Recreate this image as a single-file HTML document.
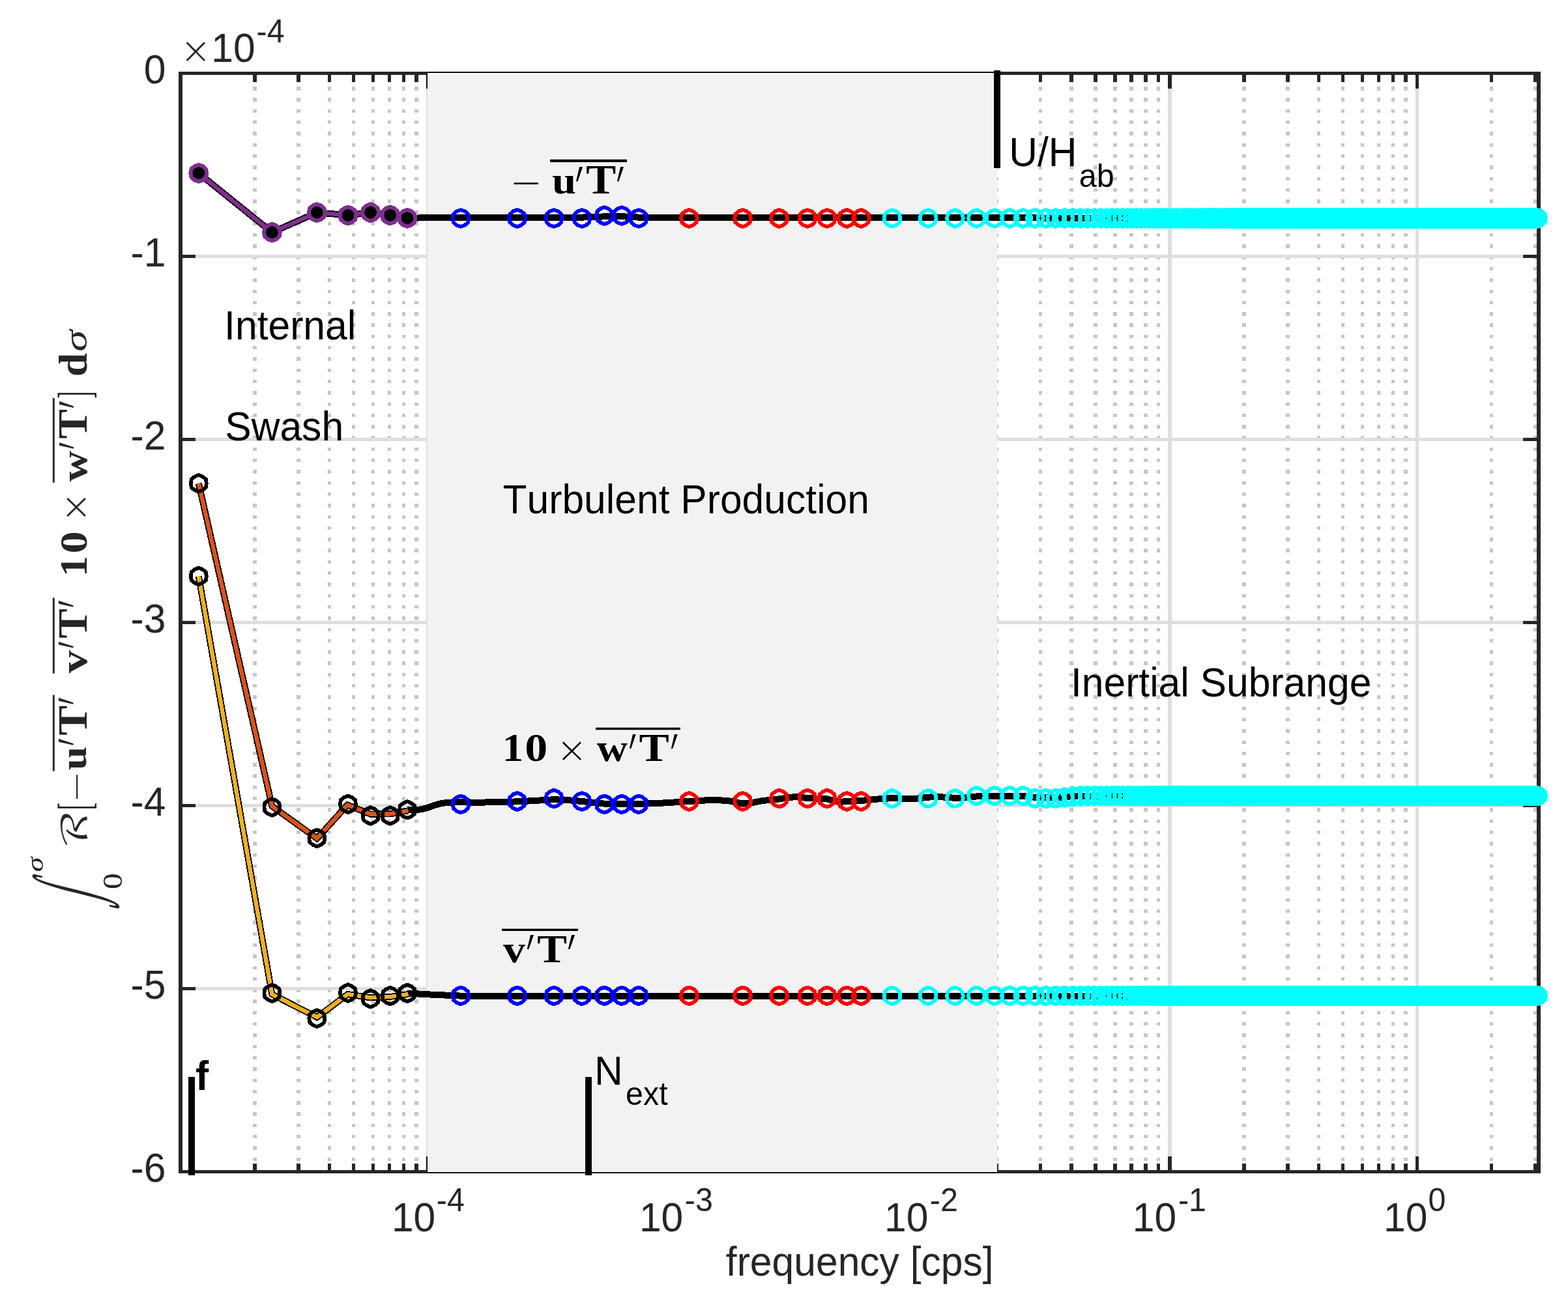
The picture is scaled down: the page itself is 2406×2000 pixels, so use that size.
<!DOCTYPE html>
<html lang="en"><head><meta charset="utf-8"><title>Integrated cospectra of heat flux versus frequency</title>
<style>
html,body{margin:0;padding:0;background:#fff;}
body{width:2406px;height:2000px;overflow:hidden;}
svg{display:block;}
text{font-family:"Liberation Sans",sans-serif;font-size:60.6px;fill:#000;font-kerning:none;}
.tk{fill:#262626;}
.sb{font-family:"Liberation Sans",sans-serif;font-weight:bold;}
.b{font-family:"Liberation Serif","DejaVu Serif",serif;font-weight:bold;}
.m{font-family:"Liberation Serif","DejaVu Serif",serif;}
.mi{font-family:"Liberation Serif","DejaVu Serif",serif;font-style:italic;}
.x{font-family:"DejaVu Sans","Liberation Sans",sans-serif;font-weight:200;}
.cal{font-family:"DejaVu Math TeX Gyre","DejaVu Sans","DejaVu Serif",serif;}
.g{shape-rendering:crispEdges;}
.o{paint-order:stroke;stroke:#fff;stroke-width:2.2px;stroke-linejoin:round;}
.e2{stroke:#fff;stroke-width:.9px;}
</style></head><body>
<svg width="2406" height="2000" viewBox="0 0 2406 2000" role="img" aria-label="Integrated cospectra versus frequency">
<desc>Cumulative integrals of the real part of the cospectra −u′T′, v′T′ and 10 × w′T′ versus frequency [cps] on a logarithmic axis; bands: Internal Swash, Turbulent Production, Inertial Subrange; reference frequencies f, N ext and U/H ab.</desc>
<rect width="2406" height="2000" fill="#fff"/>
<defs><path id="h" d="M0.00,-12.90L-6.20,-10.74L-11.17,-6.45L-12.40,-0.00L-11.17,6.45L-6.20,10.74L-0.00,12.90L6.20,10.74L11.17,6.45L12.40,0.00L11.17,-6.45L6.20,-10.74Z"/><path id="k" d="M0.00,-12.80L-6.00,-10.39L-11.09,-6.40L-12.00,-0.00L-11.09,6.40L-6.00,10.39L-0.00,12.80L6.00,10.39L11.09,6.40L12.00,0.00L11.09,-6.40L6.00,-10.39Z"/></defs>
<g class="g">
<line x1="391" x2="391" y1="1799.3" y2="112" stroke="#c6c6c6" stroke-width="6" stroke-dasharray="5.4 11.9"/>
<line x1="458" x2="458" y1="1799.3" y2="112" stroke="#c6c6c6" stroke-width="6" stroke-dasharray="5.4 11.9"/>
<line x1="505.5" x2="505.5" y1="1799.3" y2="112" stroke="#c6c6c6" stroke-width="5" stroke-dasharray="5.4 11.9"/>
<line x1="542.5" x2="542.5" y1="1799.3" y2="112" stroke="#c6c6c6" stroke-width="5" stroke-dasharray="5.4 11.9"/>
<line x1="572.5" x2="572.5" y1="1799.3" y2="112" stroke="#c6c6c6" stroke-width="5" stroke-dasharray="5.4 11.9"/>
<line x1="597.5" x2="597.5" y1="1799.3" y2="112" stroke="#c6c6c6" stroke-width="5" stroke-dasharray="5.4 11.9"/>
<line x1="619.5" x2="619.5" y1="1799.3" y2="112" stroke="#c6c6c6" stroke-width="5" stroke-dasharray="5.4 11.9"/>
<line x1="639" x2="639" y1="1799.3" y2="112" stroke="#c6c6c6" stroke-width="6" stroke-dasharray="5.4 11.9"/>
<line x1="770.5" x2="770.5" y1="1799.3" y2="112" stroke="#c6c6c6" stroke-width="5" stroke-dasharray="5.4 11.9"/>
<line x1="837.5" x2="837.5" y1="1799.3" y2="112" stroke="#c6c6c6" stroke-width="5" stroke-dasharray="5.4 11.9"/>
<line x1="885" x2="885" y1="1799.3" y2="112" stroke="#c6c6c6" stroke-width="6" stroke-dasharray="5.4 11.9"/>
<line x1="922" x2="922" y1="1799.3" y2="112" stroke="#c6c6c6" stroke-width="6" stroke-dasharray="5.4 11.9"/>
<line x1="952" x2="952" y1="1799.3" y2="112" stroke="#c6c6c6" stroke-width="6" stroke-dasharray="5.4 11.9"/>
<line x1="977" x2="977" y1="1799.3" y2="112" stroke="#c6c6c6" stroke-width="6" stroke-dasharray="5.4 11.9"/>
<line x1="999" x2="999" y1="1799.3" y2="112" stroke="#c6c6c6" stroke-width="6" stroke-dasharray="5.4 11.9"/>
<line x1="1018.5" x2="1018.5" y1="1799.3" y2="112" stroke="#c6c6c6" stroke-width="5" stroke-dasharray="5.4 11.9"/>
<line x1="1150" x2="1150" y1="1799.3" y2="112" stroke="#c6c6c6" stroke-width="6" stroke-dasharray="5.4 11.9"/>
<line x1="1217" x2="1217" y1="1799.3" y2="112" stroke="#c6c6c6" stroke-width="6" stroke-dasharray="5.4 11.9"/>
<line x1="1264.5" x2="1264.5" y1="1799.3" y2="112" stroke="#c6c6c6" stroke-width="5" stroke-dasharray="5.4 11.9"/>
<line x1="1301.5" x2="1301.5" y1="1799.3" y2="112" stroke="#c6c6c6" stroke-width="5" stroke-dasharray="5.4 11.9"/>
<line x1="1331.5" x2="1331.5" y1="1799.3" y2="112" stroke="#c6c6c6" stroke-width="5" stroke-dasharray="5.4 11.9"/>
<line x1="1356.5" x2="1356.5" y1="1799.3" y2="112" stroke="#c6c6c6" stroke-width="5" stroke-dasharray="5.4 11.9"/>
<line x1="1378.5" x2="1378.5" y1="1799.3" y2="112" stroke="#c6c6c6" stroke-width="5" stroke-dasharray="5.4 11.9"/>
<line x1="1398" x2="1398" y1="1799.3" y2="112" stroke="#c6c6c6" stroke-width="6" stroke-dasharray="5.4 11.9"/>
<line x1="1529.5" x2="1529.5" y1="1799.3" y2="112" stroke="#c6c6c6" stroke-width="5" stroke-dasharray="5.4 11.9"/>
<line x1="1596.5" x2="1596.5" y1="1799.3" y2="112" stroke="#c6c6c6" stroke-width="5" stroke-dasharray="5.4 11.9"/>
<line x1="1644" x2="1644" y1="1799.3" y2="112" stroke="#c6c6c6" stroke-width="6" stroke-dasharray="5.4 11.9"/>
<line x1="1681" x2="1681" y1="1799.3" y2="112" stroke="#c6c6c6" stroke-width="6" stroke-dasharray="5.4 11.9"/>
<line x1="1711" x2="1711" y1="1799.3" y2="112" stroke="#c6c6c6" stroke-width="6" stroke-dasharray="5.4 11.9"/>
<line x1="1736" x2="1736" y1="1799.3" y2="112" stroke="#c6c6c6" stroke-width="6" stroke-dasharray="5.4 11.9"/>
<line x1="1758" x2="1758" y1="1799.3" y2="112" stroke="#c6c6c6" stroke-width="6" stroke-dasharray="5.4 11.9"/>
<line x1="1777.5" x2="1777.5" y1="1799.3" y2="112" stroke="#c6c6c6" stroke-width="5" stroke-dasharray="5.4 11.9"/>
<line x1="1909" x2="1909" y1="1799.3" y2="112" stroke="#c6c6c6" stroke-width="6" stroke-dasharray="5.4 11.9"/>
<line x1="1976" x2="1976" y1="1799.3" y2="112" stroke="#c6c6c6" stroke-width="6" stroke-dasharray="5.4 11.9"/>
<line x1="2023.5" x2="2023.5" y1="1799.3" y2="112" stroke="#c6c6c6" stroke-width="5" stroke-dasharray="5.4 11.9"/>
<line x1="2060.5" x2="2060.5" y1="1799.3" y2="112" stroke="#c6c6c6" stroke-width="5" stroke-dasharray="5.4 11.9"/>
<line x1="2090.5" x2="2090.5" y1="1799.3" y2="112" stroke="#c6c6c6" stroke-width="5" stroke-dasharray="5.4 11.9"/>
<line x1="2115.5" x2="2115.5" y1="1799.3" y2="112" stroke="#c6c6c6" stroke-width="5" stroke-dasharray="5.4 11.9"/>
<line x1="2137.5" x2="2137.5" y1="1799.3" y2="112" stroke="#c6c6c6" stroke-width="5" stroke-dasharray="5.4 11.9"/>
<line x1="2157" x2="2157" y1="1799.3" y2="112" stroke="#c6c6c6" stroke-width="6" stroke-dasharray="5.4 11.9"/>
<line x1="2288.5" x2="2288.5" y1="1799.3" y2="112" stroke="#c6c6c6" stroke-width="5" stroke-dasharray="5.4 11.9"/>
<line x1="2355.5" x2="2355.5" y1="1799.3" y2="112" stroke="#c6c6c6" stroke-width="5" stroke-dasharray="5.4 11.9"/>
<rect x="654" y="113" width="5" height="1685" fill="#dedede"/>
<rect x="1033" y="113" width="6" height="1685" fill="#dedede"/>
<rect x="1413" y="113" width="5" height="1685" fill="#dedede"/>
<rect x="1792" y="113" width="6" height="1685" fill="#dedede"/>
<rect x="2172" y="113" width="5" height="1685" fill="#dedede"/>
<rect x="277" y="1515" width="2084" height="5" fill="#dedede"/>
<rect x="277" y="1234" width="2084" height="5" fill="#dedede"/>
<rect x="277" y="953" width="2084" height="5" fill="#dedede"/>
<rect x="277" y="672" width="2084" height="5" fill="#dedede"/>
<rect x="277" y="391" width="2084" height="5" fill="#dedede"/>
</g>
<g class="g" fill="#262626">
<rect x="274" y="110" width="6" height="1691"/>
<rect x="2358" y="110" width="6" height="1691"/>
<rect x="274" y="110" width="2090" height="5"/>
<rect x="274" y="1796" width="2090" height="5"/>
<rect x="388" y="115" width="6" height="11"/>
<rect x="388" y="1786" width="6" height="10"/>
<rect x="455" y="115" width="6" height="11"/>
<rect x="455" y="1786" width="6" height="10"/>
<rect x="503" y="115" width="5" height="11"/>
<rect x="503" y="1786" width="5" height="10"/>
<rect x="540" y="115" width="5" height="11"/>
<rect x="540" y="1786" width="5" height="10"/>
<rect x="570" y="115" width="5" height="11"/>
<rect x="570" y="1786" width="5" height="10"/>
<rect x="595" y="115" width="5" height="11"/>
<rect x="595" y="1786" width="5" height="10"/>
<rect x="617" y="115" width="5" height="11"/>
<rect x="617" y="1786" width="5" height="10"/>
<rect x="636" y="115" width="6" height="11"/>
<rect x="636" y="1786" width="6" height="10"/>
<rect x="768" y="115" width="5" height="11"/>
<rect x="768" y="1786" width="5" height="10"/>
<rect x="835" y="115" width="5" height="11"/>
<rect x="835" y="1786" width="5" height="10"/>
<rect x="882" y="115" width="6" height="11"/>
<rect x="882" y="1786" width="6" height="10"/>
<rect x="919" y="115" width="6" height="11"/>
<rect x="919" y="1786" width="6" height="10"/>
<rect x="949" y="115" width="6" height="11"/>
<rect x="949" y="1786" width="6" height="10"/>
<rect x="974" y="115" width="6" height="11"/>
<rect x="974" y="1786" width="6" height="10"/>
<rect x="996" y="115" width="6" height="11"/>
<rect x="996" y="1786" width="6" height="10"/>
<rect x="1016" y="115" width="5" height="11"/>
<rect x="1016" y="1786" width="5" height="10"/>
<rect x="1147" y="115" width="6" height="11"/>
<rect x="1147" y="1786" width="6" height="10"/>
<rect x="1214" y="115" width="6" height="11"/>
<rect x="1214" y="1786" width="6" height="10"/>
<rect x="1262" y="115" width="5" height="11"/>
<rect x="1262" y="1786" width="5" height="10"/>
<rect x="1299" y="115" width="5" height="11"/>
<rect x="1299" y="1786" width="5" height="10"/>
<rect x="1329" y="115" width="5" height="11"/>
<rect x="1329" y="1786" width="5" height="10"/>
<rect x="1354" y="115" width="5" height="11"/>
<rect x="1354" y="1786" width="5" height="10"/>
<rect x="1376" y="115" width="5" height="11"/>
<rect x="1376" y="1786" width="5" height="10"/>
<rect x="1395" y="115" width="6" height="11"/>
<rect x="1395" y="1786" width="6" height="10"/>
<rect x="1527" y="115" width="5" height="11"/>
<rect x="1527" y="1786" width="5" height="10"/>
<rect x="1594" y="115" width="5" height="11"/>
<rect x="1594" y="1786" width="5" height="10"/>
<rect x="1641" y="115" width="6" height="11"/>
<rect x="1641" y="1786" width="6" height="10"/>
<rect x="1678" y="115" width="6" height="11"/>
<rect x="1678" y="1786" width="6" height="10"/>
<rect x="1708" y="115" width="6" height="11"/>
<rect x="1708" y="1786" width="6" height="10"/>
<rect x="1733" y="115" width="6" height="11"/>
<rect x="1733" y="1786" width="6" height="10"/>
<rect x="1755" y="115" width="6" height="11"/>
<rect x="1755" y="1786" width="6" height="10"/>
<rect x="1775" y="115" width="5" height="11"/>
<rect x="1775" y="1786" width="5" height="10"/>
<rect x="1906" y="115" width="6" height="11"/>
<rect x="1906" y="1786" width="6" height="10"/>
<rect x="1973" y="115" width="6" height="11"/>
<rect x="1973" y="1786" width="6" height="10"/>
<rect x="2021" y="115" width="5" height="11"/>
<rect x="2021" y="1786" width="5" height="10"/>
<rect x="2058" y="115" width="5" height="11"/>
<rect x="2058" y="1786" width="5" height="10"/>
<rect x="2088" y="115" width="5" height="11"/>
<rect x="2088" y="1786" width="5" height="10"/>
<rect x="2113" y="115" width="5" height="11"/>
<rect x="2113" y="1786" width="5" height="10"/>
<rect x="2135" y="115" width="5" height="11"/>
<rect x="2135" y="1786" width="5" height="10"/>
<rect x="2154" y="115" width="6" height="11"/>
<rect x="2154" y="1786" width="6" height="10"/>
<rect x="2286" y="115" width="5" height="11"/>
<rect x="2286" y="1786" width="5" height="10"/>
<rect x="2353" y="115" width="5" height="11"/>
<rect x="2353" y="1786" width="5" height="10"/>
<rect x="654" y="115" width="5" height="21"/>
<rect x="654" y="1775" width="5" height="21"/>
<rect x="1033" y="115" width="6" height="21"/>
<rect x="1033" y="1775" width="6" height="21"/>
<rect x="1413" y="115" width="5" height="21"/>
<rect x="1413" y="1775" width="5" height="21"/>
<rect x="1792" y="115" width="6" height="21"/>
<rect x="1792" y="1775" width="6" height="21"/>
<rect x="2172" y="115" width="5" height="21"/>
<rect x="2172" y="1775" width="5" height="21"/>
<rect x="280" y="1515" width="20" height="5"/>
<rect x="2337" y="1515" width="21" height="5"/>
<rect x="280" y="1234" width="20" height="5"/>
<rect x="2337" y="1234" width="21" height="5"/>
<rect x="280" y="953" width="20" height="5"/>
<rect x="2337" y="953" width="21" height="5"/>
<rect x="280" y="672" width="20" height="5"/>
<rect x="2337" y="672" width="21" height="5"/>
<rect x="280" y="391" width="20" height="5"/>
<rect x="2337" y="391" width="21" height="5"/>
</g>
<g class="g">
<rect x="656" y="112" width="874" height="1687" fill="#fff"/>
<rect x="656" y="113" width="874" height="1685" fill="#f2f2f2"/>
<rect x="656" y="112" width="1" height="26" fill="#fff"/>
<rect x="656" y="1774" width="1" height="25" fill="#fff"/>
<rect x="654" y="1775" width="2" height="24" fill="#0a0a0a"/>
<rect x="654" y="112" width="2" height="24" fill="#0a0a0a"/>
<rect x="656" y="1799" width="874" height="2" fill="#0c0c0c"/>
<rect x="656" y="110" width="874" height="2" fill="#0c0c0c"/>
</g>
<defs><clipPath id="pc"><rect x="656" y="113" width="874" height="1685"/></clipPath></defs>
<g class="g" clip-path="url(#pc)" fill="none" stroke="#fff" stroke-linejoin="round">
<polyline points="625,334.8 660,334.2 707,333.6 760,333.9 850,333.9 893,333.6 927,332.4 954,332.2 980,333.6 1020,334 1200,334 1440,334.4" fill="none" stroke="#fff" stroke-width="12" stroke-linejoin="miter" />
<g stroke-width="8">
<use href="#h" x="707" y="335"/>
<use href="#h" x="793.6" y="335"/>
<use href="#h" x="850" y="335"/>
<use href="#h" x="893" y="335"/>
<use href="#h" x="927.4" y="331"/>
<use href="#h" x="954" y="331"/>
<use href="#h" x="980" y="335"/>
<use href="#h" x="1057.4" y="335"/>
<use href="#h" x="1139.6" y="335"/>
<use href="#h" x="1195.6" y="335"/>
<use href="#h" x="1239" y="335"/>
<use href="#h" x="1269" y="335"/>
<use href="#h" x="1299.4" y="335"/>
<use href="#h" x="1321.4" y="335"/>
<use href="#h" x="1369" y="335"/>
<use href="#h" x="1424.2" y="335"/>
<use href="#h" x="1465.4" y="335"/>
<use href="#h" x="1498.4" y="335"/>
<use href="#h" x="1525.9" y="335"/>
</g>
<polyline points="625,1243.5 640,1243 648,1242 657,1239.5 666,1236.2 676,1233.4 686,1231.8 700,1231.4 740,1231.6 793.6,1230.4 820,1229 850,1227.2 870,1228 893,1230 910,1232 927,1233.6 954,1234 980,1234 1020,1232.4 1057.4,1230 1096,1227.6 1120,1229.5 1139.6,1233.6 1155,1232 1170,1229 1195.6,1226.4 1220,1223 1239,1225 1269,1226.4 1288,1231 1299.4,1230 1321.4,1229 1348,1226.4 1369,1225 1400,1226.4 1425,1223.6 1440,1223 1468,1225 1498,1222.5 1528,1222 1572,1222 1589,1224" fill="none" stroke="#fff" stroke-width="12" stroke-linejoin="miter" />
<g stroke-width="8">
<use href="#h" x="707" y="1234.4"/>
<use href="#h" x="793.6" y="1230"/>
<use href="#h" x="850" y="1225.6"/>
<use href="#h" x="893" y="1230"/>
<use href="#h" x="927.4" y="1234.4"/>
<use href="#h" x="954" y="1234.4"/>
<use href="#h" x="980" y="1234.4"/>
<use href="#h" x="1057.4" y="1230"/>
<use href="#h" x="1139.6" y="1230"/>
<use href="#h" x="1195.6" y="1225.6"/>
<use href="#h" x="1239" y="1225.6"/>
<use href="#h" x="1269" y="1225.6"/>
<use href="#h" x="1299.4" y="1230"/>
<use href="#h" x="1321.4" y="1230"/>
<use href="#h" x="1369" y="1225.6"/>
<use href="#h" x="1424.2" y="1225.6"/>
<use href="#h" x="1465.4" y="1225.6"/>
<use href="#h" x="1498.4" y="1221.6"/>
<use href="#h" x="1525.9" y="1221.6"/>
</g>
<polyline points="625,1524.5 660,1526.5 707,1528.6 800,1529 1440,1529" fill="none" stroke="#fff" stroke-width="12" stroke-linejoin="miter" />
<g stroke-width="8">
<use href="#h" x="707" y="1528.4"/>
<use href="#h" x="793.6" y="1528.4"/>
<use href="#h" x="850" y="1528.4"/>
<use href="#h" x="893" y="1528.4"/>
<use href="#h" x="927.4" y="1528.4"/>
<use href="#h" x="954" y="1528.4"/>
<use href="#h" x="980" y="1528.4"/>
<use href="#h" x="1057.4" y="1528.4"/>
<use href="#h" x="1139.6" y="1528.4"/>
<use href="#h" x="1195.6" y="1528.4"/>
<use href="#h" x="1239" y="1528.4"/>
<use href="#h" x="1269" y="1528.4"/>
<use href="#h" x="1299.4" y="1528.4"/>
<use href="#h" x="1321.4" y="1528.4"/>
<use href="#h" x="1369" y="1528.4"/>
<use href="#h" x="1424.2" y="1528.4"/>
<use href="#h" x="1465.4" y="1528.4"/>
<use href="#h" x="1498.4" y="1528.4"/>
<use href="#h" x="1525.9" y="1528.4"/>
</g>
<rect x="897" y="1652" width="12" height="150" fill="#fff" stroke="none"/>
<rect x="1524" y="113" width="12" height="146" fill="#fff" stroke="none"/>
</g>
<g class="g">
<polyline points="304.8,265.8 417.4,356.7 486.3,326.2 534,330.4 568.6,326.2 598.7,330.4 625,334.8" fill="none" stroke="#000" stroke-width="10" stroke-linejoin="miter" />
<polyline points="625,334.8 660,334.2 707,333.6 760,333.9 850,333.9 893,333.6 927,332.4 954,332.2 980,333.6 1020,334 1200,334 1440,334.4 2359.6,335" fill="none" stroke="#000" stroke-width="10" stroke-linejoin="miter" />
<polyline points="304.8,265.8 417.4,356.7 486.3,326.2 534,330.4 568.6,326.2 598.7,330.4 625,334.8" fill="none" stroke="#7e2f8e" stroke-width="6.3" stroke-linejoin="miter" />
<g fill="#000" stroke="#7e2f8e" stroke-width="6" stroke-linejoin="round">
<use href="#h" x="304.8" y="265.8"/>
<use href="#h" x="417.4" y="356.7"/>
<use href="#h" x="486.3" y="326.2"/>
<use href="#h" x="534" y="330.4"/>
<use href="#h" x="568.6" y="326.2"/>
<use href="#h" x="598.7" y="330.4"/>
<use href="#h" x="625" y="334.8"/>
</g>
<g fill="none" stroke="#00f" stroke-width="5.8" stroke-linejoin="round">
<use href="#h" x="707" y="335"/>
<use href="#h" x="793.6" y="335"/>
<use href="#h" x="850" y="335"/>
<use href="#h" x="893" y="335"/>
<use href="#h" x="927.4" y="331"/>
<use href="#h" x="954" y="331"/>
<use href="#h" x="980" y="335"/>
</g>
<g fill="none" stroke="#f00" stroke-width="5.8" stroke-linejoin="round">
<use href="#h" x="1057.4" y="335"/>
<use href="#h" x="1139.6" y="335"/>
<use href="#h" x="1195.6" y="335"/>
<use href="#h" x="1239" y="335"/>
<use href="#h" x="1269" y="335"/>
<use href="#h" x="1299.4" y="335"/>
<use href="#h" x="1321.4" y="335"/>
</g>
<g fill="none" stroke="#0ff" stroke-width="5.8" stroke-linejoin="round">
<use href="#h" x="1369" y="335"/>
<use href="#h" x="1424.2" y="335"/>
<use href="#h" x="1465.4" y="335"/>
<use href="#h" x="1498.4" y="335"/>
<use href="#h" x="1525.9" y="335"/>
<use href="#h" x="1549.4" y="335"/>
<use href="#h" x="1570" y="335"/>
<use href="#h" x="1588.3" y="335"/>
<use href="#h" x="1604.8" y="335"/>
<use href="#h" x="1619.8" y="335"/>
<use href="#h" x="1633.5" y="335"/>
<use href="#h" x="1646.2" y="335"/>
<use href="#h" x="1658" y="335"/>
<use href="#h" x="1668.9" y="335"/>
<use href="#h" x="1679.2" y="335"/>
<use href="#h" x="1688.9" y="335"/>
<use href="#h" x="1698.1" y="335"/>
<use href="#h" x="1706.7" y="335"/>
<use href="#h" x="1715" y="335"/>
<use href="#h" x="1722.8" y="335"/>
<use href="#h" x="1730.3" y="335"/>
<use href="#h" x="1737.5" y="335"/>
<use href="#h" x="1744.3" y="335"/>
<use href="#h" x="1750.9" y="335"/>
<use href="#h" x="1757.3" y="335"/>
<use href="#h" x="1763.4" y="335"/>
<use href="#h" x="1769.3" y="335"/>
<use href="#h" x="1774.9" y="335"/>
<use href="#h" x="1780.4" y="335"/>
<use href="#h" x="1785.7" y="335"/>
<use href="#h" x="1790.9" y="335"/>
<use href="#h" x="1795.9" y="335"/>
<use href="#h" x="1800.7" y="335"/>
<use href="#h" x="1805.4" y="335"/>
<use href="#h" x="1810" y="335"/>
<use href="#h" x="1814.5" y="335"/>
<use href="#h" x="1818.8" y="335"/>
<use href="#h" x="1823" y="335"/>
<use href="#h" x="1827.2" y="335"/>
<use href="#h" x="1831.2" y="335"/>
<use href="#h" x="1835.1" y="335"/>
<use href="#h" x="1838.9" y="335"/>
<use href="#h" x="1842.7" y="335"/>
<use href="#h" x="1846.3" y="335"/>
<use href="#h" x="1849.9" y="335"/>
<use href="#h" x="1853.4" y="335"/>
<use href="#h" x="1856.9" y="335"/>
<use href="#h" x="1860.2" y="335"/>
<use href="#h" x="1863.5" y="335"/>
<use href="#h" x="1866.7" y="335"/>
<use href="#h" x="1869.9" y="335"/>
<use href="#h" x="1873" y="335"/>
<use href="#h" x="1876.1" y="335"/>
<use href="#h" x="1879.1" y="335"/>
<use href="#h" x="1882" y="335"/>
<use href="#h" x="1884.9" y="335"/>
<use href="#h" x="1887.7" y="335"/>
<use href="#h" x="1890.5" y="335"/>
<use href="#h" x="1893.3" y="335"/>
<use href="#h" x="1896" y="335"/>
<use href="#h" x="1898.6" y="335"/>
<use href="#h" x="1901.3" y="335"/>
<use href="#h" x="1903.8" y="335"/>
<use href="#h" x="1906.4" y="335"/>
<use href="#h" x="1908.9" y="335"/>
<use href="#h" x="1911.3" y="335"/>
<use href="#h" x="1913.7" y="335"/>
<use href="#h" x="1916.1" y="335"/>
<use href="#h" x="1918.5" y="335"/>
<use href="#h" x="1920.8" y="335"/>
<use href="#h" x="1923.1" y="335"/>
<use href="#h" x="1925.4" y="335"/>
<use href="#h" x="1927.6" y="335"/>
<use href="#h" x="1929.8" y="335"/>
<use href="#h" x="1931.9" y="335"/>
<use href="#h" x="1934.1" y="335"/>
<use href="#h" x="1936.2" y="335"/>
<use href="#h" x="1938.3" y="335"/>
<use href="#h" x="1940.3" y="335"/>
<use href="#h" x="1942.4" y="335"/>
<use href="#h" x="1944.4" y="335"/>
<use href="#h" x="1946.4" y="335"/>
<use href="#h" x="1948.3" y="335"/>
<use href="#h" x="1950.3" y="335"/>
<use href="#h" x="1952.2" y="335"/>
<use href="#h" x="1954.1" y="335"/>
<use href="#h" x="1956" y="335"/>
<use href="#h" x="1957.8" y="335"/>
<use href="#h" x="1959.6" y="335"/>
<use href="#h" x="1961.5" y="335"/>
<use href="#h" x="1963.2" y="335"/>
<use href="#h" x="1965" y="335"/>
<use href="#h" x="1966.8" y="335"/>
<use href="#h" x="1968.5" y="335"/>
<use href="#h" x="1970.2" y="335"/>
<use href="#h" x="1971.9" y="335"/>
<use href="#h" x="1973.6" y="335"/>
<use href="#h" x="1975.3" y="335"/>
<use href="#h" x="1976.9" y="335"/>
<use href="#h" x="1978.5" y="335"/>
<use href="#h" x="1980.2" y="335"/>
<use href="#h" x="1981.8" y="335"/>
<use href="#h" x="1983.3" y="335"/>
<use href="#h" x="1984.9" y="335"/>
<use href="#h" x="1986.5" y="335"/>
<use href="#h" x="1988" y="335"/>
<use href="#h" x="1989.5" y="335"/>
<use href="#h" x="1991" y="335"/>
<use href="#h" x="1992.5" y="335"/>
<use href="#h" x="1994" y="335"/>
<use href="#h" x="1995.5" y="335"/>
<use href="#h" x="1997" y="335"/>
<use href="#h" x="1998.4" y="335"/>
<use href="#h" x="1999.8" y="335"/>
<use href="#h" x="2001.3" y="335"/>
<use href="#h" x="2002.7" y="335"/>
<use href="#h" x="2004.1" y="335"/>
<use href="#h" x="2005.4" y="335"/>
<use href="#h" x="2006.8" y="335"/>
<use href="#h" x="2008.2" y="335"/>
<use href="#h" x="2009.5" y="335"/>
<use href="#h" x="2010.9" y="335"/>
<use href="#h" x="2012.2" y="335"/>
<use href="#h" x="2013.5" y="335"/>
<use href="#h" x="2014.8" y="335"/>
<use href="#h" x="2016.1" y="335"/>
<use href="#h" x="2017.4" y="335"/>
<use href="#h" x="2018.7" y="335"/>
<use href="#h" x="2020" y="335"/>
<use href="#h" x="2021.2" y="335"/>
<use href="#h" x="2022.5" y="335"/>
<use href="#h" x="2023.7" y="335"/>
<use href="#h" x="2024.9" y="335"/>
<use href="#h" x="2026.2" y="335"/>
<use href="#h" x="2027.4" y="335"/>
<use href="#h" x="2028.6" y="335"/>
<use href="#h" x="2030.9" y="335"/>
<use href="#h" x="2033.3" y="335"/>
<use href="#h" x="2035.6" y="335"/>
<use href="#h" x="2037.9" y="335"/>
<use href="#h" x="2040.1" y="335"/>
<use href="#h" x="2042.4" y="335"/>
<use href="#h" x="2044.5" y="335"/>
<use href="#h" x="2046.7" y="335"/>
<use href="#h" x="2048.8" y="335"/>
<use href="#h" x="2050.9" y="335"/>
<use href="#h" x="2053" y="335"/>
<use href="#h" x="2055.1" y="335"/>
<use href="#h" x="2057.1" y="335"/>
<use href="#h" x="2059.1" y="335"/>
<use href="#h" x="2061.1" y="335"/>
<use href="#h" x="2063.1" y="335"/>
<use href="#h" x="2065" y="335"/>
<use href="#h" x="2066.9" y="335"/>
<use href="#h" x="2068.8" y="335"/>
<use href="#h" x="2070.7" y="335"/>
<use href="#h" x="2072.5" y="335"/>
<use href="#h" x="2074.3" y="335"/>
<use href="#h" x="2076.1" y="335"/>
<use href="#h" x="2077.9" y="335"/>
<use href="#h" x="2079.7" y="335"/>
<use href="#h" x="2081.4" y="335"/>
<use href="#h" x="2083.2" y="335"/>
<use href="#h" x="2084.9" y="335"/>
<use href="#h" x="2086.6" y="335"/>
<use href="#h" x="2088.2" y="335"/>
<use href="#h" x="2089.9" y="335"/>
<use href="#h" x="2091.6" y="335"/>
<use href="#h" x="2093.2" y="335"/>
<use href="#h" x="2094.8" y="335"/>
<use href="#h" x="2096.4" y="335"/>
<use href="#h" x="2098" y="335"/>
<use href="#h" x="2099.5" y="335"/>
<use href="#h" x="2101.1" y="335"/>
<use href="#h" x="2102.6" y="335"/>
<use href="#h" x="2104.1" y="335"/>
<use href="#h" x="2105.7" y="335"/>
<use href="#h" x="2107.1" y="335"/>
<use href="#h" x="2108.6" y="335"/>
<use href="#h" x="2110.1" y="335"/>
<use href="#h" x="2111.6" y="335"/>
<use href="#h" x="2113" y="335"/>
<use href="#h" x="2114.4" y="335"/>
<use href="#h" x="2115.8" y="335"/>
<use href="#h" x="2117.2" y="335"/>
<use href="#h" x="2118.6" y="335"/>
<use href="#h" x="2120" y="335"/>
<use href="#h" x="2121.4" y="335"/>
<use href="#h" x="2122.8" y="335"/>
<use href="#h" x="2124.1" y="335"/>
<use href="#h" x="2125.4" y="335"/>
<use href="#h" x="2126.8" y="335"/>
<use href="#h" x="2128.1" y="335"/>
<use href="#h" x="2129.4" y="335"/>
<use href="#h" x="2130.7" y="335"/>
<use href="#h" x="2132" y="335"/>
<use href="#h" x="2133.2" y="335"/>
<use href="#h" x="2134.5" y="335"/>
<use href="#h" x="2135.8" y="335"/>
<use href="#h" x="2137" y="335"/>
<use href="#h" x="2138.2" y="335"/>
<use href="#h" x="2139.5" y="335"/>
<use href="#h" x="2140.7" y="335"/>
<use href="#h" x="2141.9" y="335"/>
<use href="#h" x="2143.1" y="335"/>
<use href="#h" x="2144.9" y="335"/>
<use href="#h" x="2146.7" y="335"/>
<use href="#h" x="2148.4" y="335"/>
<use href="#h" x="2150.1" y="335"/>
<use href="#h" x="2151.8" y="335"/>
<use href="#h" x="2153.5" y="335"/>
<use href="#h" x="2155.2" y="335"/>
<use href="#h" x="2156.9" y="335"/>
<use href="#h" x="2158.5" y="335"/>
<use href="#h" x="2160.1" y="335"/>
<use href="#h" x="2161.7" y="335"/>
<use href="#h" x="2163.3" y="335"/>
<use href="#h" x="2164.9" y="335"/>
<use href="#h" x="2166.5" y="335"/>
<use href="#h" x="2168" y="335"/>
<use href="#h" x="2169.6" y="335"/>
<use href="#h" x="2171.1" y="335"/>
<use href="#h" x="2172.6" y="335"/>
<use href="#h" x="2174.1" y="335"/>
<use href="#h" x="2175.6" y="335"/>
<use href="#h" x="2177" y="335"/>
<use href="#h" x="2178.5" y="335"/>
<use href="#h" x="2179.9" y="335"/>
<use href="#h" x="2181.4" y="335"/>
<use href="#h" x="2182.8" y="335"/>
<use href="#h" x="2184.2" y="335"/>
<use href="#h" x="2185.6" y="335"/>
<use href="#h" x="2187" y="335"/>
<use href="#h" x="2188.3" y="335"/>
<use href="#h" x="2189.7" y="335"/>
<use href="#h" x="2191" y="335"/>
<use href="#h" x="2192.4" y="335"/>
<use href="#h" x="2193.7" y="335"/>
<use href="#h" x="2195" y="335"/>
<use href="#h" x="2196.3" y="335"/>
<use href="#h" x="2197.6" y="335"/>
<use href="#h" x="2198.9" y="335"/>
<use href="#h" x="2200.2" y="335"/>
<use href="#h" x="2201.4" y="335"/>
<use href="#h" x="2202.7" y="335"/>
<use href="#h" x="2203.9" y="335"/>
<use href="#h" x="2205.2" y="335"/>
<use href="#h" x="2206.4" y="335"/>
<use href="#h" x="2207.6" y="335"/>
<use href="#h" x="2208.8" y="335"/>
<use href="#h" x="2210" y="335"/>
<use href="#h" x="2211.6" y="335"/>
<use href="#h" x="2213.2" y="335"/>
<use href="#h" x="2214.7" y="335"/>
<use href="#h" x="2216.3" y="335"/>
<use href="#h" x="2217.8" y="335"/>
<use href="#h" x="2219.3" y="335"/>
<use href="#h" x="2220.8" y="335"/>
<use href="#h" x="2222.3" y="335"/>
<use href="#h" x="2223.8" y="335"/>
<use href="#h" x="2225.2" y="335"/>
<use href="#h" x="2226.7" y="335"/>
<use href="#h" x="2228.1" y="335"/>
<use href="#h" x="2229.5" y="335"/>
<use href="#h" x="2231" y="335"/>
<use href="#h" x="2232.4" y="335"/>
<use href="#h" x="2233.7" y="335"/>
<use href="#h" x="2235.1" y="335"/>
<use href="#h" x="2236.5" y="335"/>
<use href="#h" x="2237.8" y="335"/>
<use href="#h" x="2239.2" y="335"/>
<use href="#h" x="2240.5" y="335"/>
<use href="#h" x="2241.8" y="335"/>
<use href="#h" x="2243.1" y="335"/>
<use href="#h" x="2244.4" y="335"/>
<use href="#h" x="2245.7" y="335"/>
<use href="#h" x="2247" y="335"/>
<use href="#h" x="2248.3" y="335"/>
<use href="#h" x="2249.5" y="335"/>
<use href="#h" x="2250.8" y="335"/>
<use href="#h" x="2252" y="335"/>
<use href="#h" x="2253.3" y="335"/>
<use href="#h" x="2254.5" y="335"/>
<use href="#h" x="2255.7" y="335"/>
<use href="#h" x="2256.9" y="335"/>
<use href="#h" x="2258.4" y="335"/>
<use href="#h" x="2259.9" y="335"/>
<use href="#h" x="2261.3" y="335"/>
<use href="#h" x="2262.8" y="335"/>
<use href="#h" x="2264.2" y="335"/>
<use href="#h" x="2265.7" y="335"/>
<use href="#h" x="2267.1" y="335"/>
<use href="#h" x="2268.5" y="335"/>
<use href="#h" x="2269.9" y="335"/>
<use href="#h" x="2271.2" y="335"/>
<use href="#h" x="2272.6" y="335"/>
<use href="#h" x="2274" y="335"/>
<use href="#h" x="2275.3" y="335"/>
<use href="#h" x="2276.7" y="335"/>
<use href="#h" x="2278" y="335"/>
<use href="#h" x="2279.3" y="335"/>
<use href="#h" x="2280.6" y="335"/>
<use href="#h" x="2281.9" y="335"/>
<use href="#h" x="2283.2" y="335"/>
<use href="#h" x="2284.4" y="335"/>
<use href="#h" x="2285.7" y="335"/>
<use href="#h" x="2287" y="335"/>
<use href="#h" x="2288.2" y="335"/>
<use href="#h" x="2289.4" y="335"/>
<use href="#h" x="2290.7" y="335"/>
<use href="#h" x="2291.9" y="335"/>
<use href="#h" x="2293.1" y="335"/>
<use href="#h" x="2294.5" y="335"/>
<use href="#h" x="2296" y="335"/>
<use href="#h" x="2297.4" y="335"/>
<use href="#h" x="2298.8" y="335"/>
<use href="#h" x="2300.2" y="335"/>
<use href="#h" x="2301.5" y="335"/>
<use href="#h" x="2302.9" y="335"/>
<use href="#h" x="2304.3" y="335"/>
<use href="#h" x="2305.6" y="335"/>
<use href="#h" x="2306.9" y="335"/>
<use href="#h" x="2308.3" y="335"/>
<use href="#h" x="2309.6" y="335"/>
<use href="#h" x="2310.9" y="335"/>
<use href="#h" x="2312.2" y="335"/>
<use href="#h" x="2313.5" y="335"/>
<use href="#h" x="2314.7" y="335"/>
<use href="#h" x="2316" y="335"/>
<use href="#h" x="2317.2" y="335"/>
<use href="#h" x="2318.5" y="335"/>
<use href="#h" x="2319.7" y="335"/>
<use href="#h" x="2320.9" y="335"/>
<use href="#h" x="2322.2" y="335"/>
<use href="#h" x="2323.4" y="335"/>
<use href="#h" x="2324.8" y="335"/>
<use href="#h" x="2326.1" y="335"/>
<use href="#h" x="2327.5" y="335"/>
<use href="#h" x="2328.9" y="335"/>
<use href="#h" x="2330.2" y="335"/>
<use href="#h" x="2331.6" y="335"/>
<use href="#h" x="2332.9" y="335"/>
<use href="#h" x="2334.2" y="335"/>
<use href="#h" x="2335.5" y="335"/>
<use href="#h" x="2336.8" y="335"/>
<use href="#h" x="2338.1" y="335"/>
<use href="#h" x="2339.4" y="335"/>
<use href="#h" x="2340.7" y="335"/>
<use href="#h" x="2341.9" y="335"/>
<use href="#h" x="2343.2" y="335"/>
<use href="#h" x="2344.4" y="335"/>
<use href="#h" x="2345.6" y="335"/>
<use href="#h" x="2346.9" y="335"/>
<use href="#h" x="2348.1" y="335"/>
<use href="#h" x="2349.3" y="335"/>
<use href="#h" x="2350.6" y="335"/>
<use href="#h" x="2352" y="335"/>
<use href="#h" x="2353.3" y="335"/>
<use href="#h" x="2354.7" y="335"/>
<use href="#h" x="2356" y="335"/>
<use href="#h" x="2357.3" y="335"/>
<use href="#h" x="2358.6" y="335"/>
<use href="#h" x="2359.6" y="335"/>
</g>
<polyline points="304.8,741.9 417.4,1237.4 486.4,1287 533.2,1235.5 568.6,1249.6 598.7,1249.4 626.5,1244.3" fill="none" stroke="#000" stroke-width="10" stroke-linejoin="miter" />
<polyline points="625,1243.5 640,1243 648,1242 657,1239.5 666,1236.2 676,1233.4 686,1231.8 700,1231.4 740,1231.6 793.6,1230.4 820,1229 850,1227.2 870,1228 893,1230 910,1232 927,1233.6 954,1234 980,1234 1020,1232.4 1057.4,1230 1096,1227.6 1120,1229.5 1139.6,1233.6 1155,1232 1170,1229 1195.6,1226.4 1220,1223 1239,1225 1269,1226.4 1288,1231 1299.4,1230 1321.4,1229 1348,1226.4 1369,1225 1400,1226.4 1425,1223.6 1440,1223 1468,1225 1498,1222.5 1528,1222 1572,1222 1589,1224 1619,1224.5 1650,1222 1700,1221.5 2359.6,1221.5" fill="none" stroke="#000" stroke-width="10" stroke-linejoin="miter" />
<polyline points="304.8,741.9 417.4,1237.4 486.4,1287 533.2,1235.5 568.6,1249.6 598.7,1249.4 626.5,1244.3" fill="none" stroke="#d95319" stroke-width="6.3" stroke-linejoin="miter" />
<g fill="none" stroke="#000" stroke-width="5.7" stroke-linejoin="round">
<use href="#k" x="304.8" y="741.9"/>
<use href="#k" x="417.4" y="1238.9"/>
<use href="#k" x="486.3" y="1286.4"/>
<use href="#k" x="534" y="1234.3"/>
<use href="#k" x="568.6" y="1251.9"/>
<use href="#k" x="598.7" y="1251.9"/>
<use href="#k" x="625" y="1242.9"/>
</g>
<g fill="none" stroke="#00f" stroke-width="5.8" stroke-linejoin="round">
<use href="#h" x="707" y="1234.4"/>
<use href="#h" x="793.6" y="1230"/>
<use href="#h" x="850" y="1225.6"/>
<use href="#h" x="893" y="1230"/>
<use href="#h" x="927.4" y="1234.4"/>
<use href="#h" x="954" y="1234.4"/>
<use href="#h" x="980" y="1234.4"/>
</g>
<g fill="none" stroke="#f00" stroke-width="5.8" stroke-linejoin="round">
<use href="#h" x="1057.4" y="1230"/>
<use href="#h" x="1139.6" y="1230"/>
<use href="#h" x="1195.6" y="1225.6"/>
<use href="#h" x="1239" y="1225.6"/>
<use href="#h" x="1269" y="1225.6"/>
<use href="#h" x="1299.4" y="1230"/>
<use href="#h" x="1321.4" y="1230"/>
</g>
<g fill="none" stroke="#0ff" stroke-width="5.8" stroke-linejoin="round">
<use href="#h" x="1369" y="1225.6"/>
<use href="#h" x="1424.2" y="1225.6"/>
<use href="#h" x="1465.4" y="1225.6"/>
<use href="#h" x="1498.4" y="1221.6"/>
<use href="#h" x="1525.9" y="1221.6"/>
<use href="#h" x="1549.4" y="1221.6"/>
<use href="#h" x="1570" y="1221.6"/>
<use href="#h" x="1588.3" y="1225.4"/>
<use href="#h" x="1604.8" y="1225.6"/>
<use href="#h" x="1619.8" y="1225.5"/>
<use href="#h" x="1633.5" y="1224.1"/>
<use href="#h" x="1646.2" y="1222.9"/>
<use href="#h" x="1658" y="1221.8"/>
<use href="#h" x="1668.9" y="1221.6"/>
<use href="#h" x="1679.2" y="1221.6"/>
<use href="#h" x="1688.9" y="1221.6"/>
<use href="#h" x="1698.1" y="1221.6"/>
<use href="#h" x="1706.7" y="1221.6"/>
<use href="#h" x="1715" y="1221.6"/>
<use href="#h" x="1722.8" y="1221.6"/>
<use href="#h" x="1730.3" y="1221.6"/>
<use href="#h" x="1737.5" y="1221.6"/>
<use href="#h" x="1744.3" y="1221.6"/>
<use href="#h" x="1750.9" y="1221.6"/>
<use href="#h" x="1757.3" y="1221.6"/>
<use href="#h" x="1763.4" y="1221.6"/>
<use href="#h" x="1769.3" y="1221.6"/>
<use href="#h" x="1774.9" y="1221.6"/>
<use href="#h" x="1780.4" y="1221.6"/>
<use href="#h" x="1785.7" y="1221.6"/>
<use href="#h" x="1790.9" y="1221.6"/>
<use href="#h" x="1795.9" y="1221.6"/>
<use href="#h" x="1800.7" y="1221.6"/>
<use href="#h" x="1805.4" y="1221.6"/>
<use href="#h" x="1810" y="1221.6"/>
<use href="#h" x="1814.5" y="1221.6"/>
<use href="#h" x="1818.8" y="1221.6"/>
<use href="#h" x="1823" y="1221.6"/>
<use href="#h" x="1827.2" y="1221.6"/>
<use href="#h" x="1831.2" y="1221.6"/>
<use href="#h" x="1835.1" y="1221.6"/>
<use href="#h" x="1838.9" y="1221.6"/>
<use href="#h" x="1842.7" y="1221.6"/>
<use href="#h" x="1846.3" y="1221.6"/>
<use href="#h" x="1849.9" y="1221.6"/>
<use href="#h" x="1853.4" y="1221.6"/>
<use href="#h" x="1856.9" y="1221.6"/>
<use href="#h" x="1860.2" y="1221.6"/>
<use href="#h" x="1863.5" y="1221.6"/>
<use href="#h" x="1866.7" y="1221.6"/>
<use href="#h" x="1869.9" y="1221.6"/>
<use href="#h" x="1873" y="1221.6"/>
<use href="#h" x="1876.1" y="1221.6"/>
<use href="#h" x="1879.1" y="1221.6"/>
<use href="#h" x="1882" y="1221.6"/>
<use href="#h" x="1884.9" y="1221.6"/>
<use href="#h" x="1887.7" y="1221.6"/>
<use href="#h" x="1890.5" y="1221.6"/>
<use href="#h" x="1893.3" y="1221.6"/>
<use href="#h" x="1896" y="1221.6"/>
<use href="#h" x="1898.6" y="1221.6"/>
<use href="#h" x="1901.3" y="1221.6"/>
<use href="#h" x="1903.8" y="1221.6"/>
<use href="#h" x="1906.4" y="1221.6"/>
<use href="#h" x="1908.9" y="1221.6"/>
<use href="#h" x="1911.3" y="1221.6"/>
<use href="#h" x="1913.7" y="1221.6"/>
<use href="#h" x="1916.1" y="1221.6"/>
<use href="#h" x="1918.5" y="1221.6"/>
<use href="#h" x="1920.8" y="1221.6"/>
<use href="#h" x="1923.1" y="1221.6"/>
<use href="#h" x="1925.4" y="1221.6"/>
<use href="#h" x="1927.6" y="1221.6"/>
<use href="#h" x="1929.8" y="1221.6"/>
<use href="#h" x="1931.9" y="1221.6"/>
<use href="#h" x="1934.1" y="1221.6"/>
<use href="#h" x="1936.2" y="1221.6"/>
<use href="#h" x="1938.3" y="1221.6"/>
<use href="#h" x="1940.3" y="1221.6"/>
<use href="#h" x="1942.4" y="1221.6"/>
<use href="#h" x="1944.4" y="1221.6"/>
<use href="#h" x="1946.4" y="1221.6"/>
<use href="#h" x="1948.3" y="1221.6"/>
<use href="#h" x="1950.3" y="1221.6"/>
<use href="#h" x="1952.2" y="1221.6"/>
<use href="#h" x="1954.1" y="1221.6"/>
<use href="#h" x="1956" y="1221.6"/>
<use href="#h" x="1957.8" y="1221.6"/>
<use href="#h" x="1959.6" y="1221.6"/>
<use href="#h" x="1961.5" y="1221.6"/>
<use href="#h" x="1963.2" y="1221.6"/>
<use href="#h" x="1965" y="1221.6"/>
<use href="#h" x="1966.8" y="1221.6"/>
<use href="#h" x="1968.5" y="1221.6"/>
<use href="#h" x="1970.2" y="1221.6"/>
<use href="#h" x="1971.9" y="1221.6"/>
<use href="#h" x="1973.6" y="1221.6"/>
<use href="#h" x="1975.3" y="1221.6"/>
<use href="#h" x="1976.9" y="1221.6"/>
<use href="#h" x="1978.5" y="1221.6"/>
<use href="#h" x="1980.2" y="1221.6"/>
<use href="#h" x="1981.8" y="1221.6"/>
<use href="#h" x="1983.3" y="1221.6"/>
<use href="#h" x="1984.9" y="1221.6"/>
<use href="#h" x="1986.5" y="1221.6"/>
<use href="#h" x="1988" y="1221.6"/>
<use href="#h" x="1989.5" y="1221.6"/>
<use href="#h" x="1991" y="1221.6"/>
<use href="#h" x="1992.5" y="1221.6"/>
<use href="#h" x="1994" y="1221.6"/>
<use href="#h" x="1995.5" y="1221.6"/>
<use href="#h" x="1997" y="1221.6"/>
<use href="#h" x="1998.4" y="1221.6"/>
<use href="#h" x="1999.8" y="1221.6"/>
<use href="#h" x="2001.3" y="1221.6"/>
<use href="#h" x="2002.7" y="1221.6"/>
<use href="#h" x="2004.1" y="1221.6"/>
<use href="#h" x="2005.4" y="1221.6"/>
<use href="#h" x="2006.8" y="1221.6"/>
<use href="#h" x="2008.2" y="1221.6"/>
<use href="#h" x="2009.5" y="1221.6"/>
<use href="#h" x="2010.9" y="1221.6"/>
<use href="#h" x="2012.2" y="1221.6"/>
<use href="#h" x="2013.5" y="1221.6"/>
<use href="#h" x="2014.8" y="1221.6"/>
<use href="#h" x="2016.1" y="1221.6"/>
<use href="#h" x="2017.4" y="1221.6"/>
<use href="#h" x="2018.7" y="1221.6"/>
<use href="#h" x="2020" y="1221.6"/>
<use href="#h" x="2021.2" y="1221.6"/>
<use href="#h" x="2022.5" y="1221.6"/>
<use href="#h" x="2023.7" y="1221.6"/>
<use href="#h" x="2024.9" y="1221.6"/>
<use href="#h" x="2026.2" y="1221.6"/>
<use href="#h" x="2027.4" y="1221.6"/>
<use href="#h" x="2028.6" y="1221.6"/>
<use href="#h" x="2030.9" y="1221.6"/>
<use href="#h" x="2033.3" y="1221.6"/>
<use href="#h" x="2035.6" y="1221.6"/>
<use href="#h" x="2037.9" y="1221.6"/>
<use href="#h" x="2040.1" y="1221.6"/>
<use href="#h" x="2042.4" y="1221.6"/>
<use href="#h" x="2044.5" y="1221.6"/>
<use href="#h" x="2046.7" y="1221.6"/>
<use href="#h" x="2048.8" y="1221.6"/>
<use href="#h" x="2050.9" y="1221.6"/>
<use href="#h" x="2053" y="1221.6"/>
<use href="#h" x="2055.1" y="1221.6"/>
<use href="#h" x="2057.1" y="1221.6"/>
<use href="#h" x="2059.1" y="1221.6"/>
<use href="#h" x="2061.1" y="1221.6"/>
<use href="#h" x="2063.1" y="1221.6"/>
<use href="#h" x="2065" y="1221.6"/>
<use href="#h" x="2066.9" y="1221.6"/>
<use href="#h" x="2068.8" y="1221.6"/>
<use href="#h" x="2070.7" y="1221.6"/>
<use href="#h" x="2072.5" y="1221.6"/>
<use href="#h" x="2074.3" y="1221.6"/>
<use href="#h" x="2076.1" y="1221.6"/>
<use href="#h" x="2077.9" y="1221.6"/>
<use href="#h" x="2079.7" y="1221.6"/>
<use href="#h" x="2081.4" y="1221.6"/>
<use href="#h" x="2083.2" y="1221.6"/>
<use href="#h" x="2084.9" y="1221.6"/>
<use href="#h" x="2086.6" y="1221.6"/>
<use href="#h" x="2088.2" y="1221.6"/>
<use href="#h" x="2089.9" y="1221.6"/>
<use href="#h" x="2091.6" y="1221.6"/>
<use href="#h" x="2093.2" y="1221.6"/>
<use href="#h" x="2094.8" y="1221.6"/>
<use href="#h" x="2096.4" y="1221.6"/>
<use href="#h" x="2098" y="1221.6"/>
<use href="#h" x="2099.5" y="1221.6"/>
<use href="#h" x="2101.1" y="1221.6"/>
<use href="#h" x="2102.6" y="1221.6"/>
<use href="#h" x="2104.1" y="1221.6"/>
<use href="#h" x="2105.7" y="1221.6"/>
<use href="#h" x="2107.1" y="1221.6"/>
<use href="#h" x="2108.6" y="1221.6"/>
<use href="#h" x="2110.1" y="1221.6"/>
<use href="#h" x="2111.6" y="1221.6"/>
<use href="#h" x="2113" y="1221.6"/>
<use href="#h" x="2114.4" y="1221.6"/>
<use href="#h" x="2115.8" y="1221.6"/>
<use href="#h" x="2117.2" y="1221.6"/>
<use href="#h" x="2118.6" y="1221.6"/>
<use href="#h" x="2120" y="1221.6"/>
<use href="#h" x="2121.4" y="1221.6"/>
<use href="#h" x="2122.8" y="1221.6"/>
<use href="#h" x="2124.1" y="1221.6"/>
<use href="#h" x="2125.4" y="1221.6"/>
<use href="#h" x="2126.8" y="1221.6"/>
<use href="#h" x="2128.1" y="1221.6"/>
<use href="#h" x="2129.4" y="1221.6"/>
<use href="#h" x="2130.7" y="1221.6"/>
<use href="#h" x="2132" y="1221.6"/>
<use href="#h" x="2133.2" y="1221.6"/>
<use href="#h" x="2134.5" y="1221.6"/>
<use href="#h" x="2135.8" y="1221.6"/>
<use href="#h" x="2137" y="1221.6"/>
<use href="#h" x="2138.2" y="1221.6"/>
<use href="#h" x="2139.5" y="1221.6"/>
<use href="#h" x="2140.7" y="1221.6"/>
<use href="#h" x="2141.9" y="1221.6"/>
<use href="#h" x="2143.1" y="1221.6"/>
<use href="#h" x="2144.9" y="1221.6"/>
<use href="#h" x="2146.7" y="1221.6"/>
<use href="#h" x="2148.4" y="1221.6"/>
<use href="#h" x="2150.1" y="1221.6"/>
<use href="#h" x="2151.8" y="1221.6"/>
<use href="#h" x="2153.5" y="1221.6"/>
<use href="#h" x="2155.2" y="1221.6"/>
<use href="#h" x="2156.9" y="1221.6"/>
<use href="#h" x="2158.5" y="1221.6"/>
<use href="#h" x="2160.1" y="1221.6"/>
<use href="#h" x="2161.7" y="1221.6"/>
<use href="#h" x="2163.3" y="1221.6"/>
<use href="#h" x="2164.9" y="1221.6"/>
<use href="#h" x="2166.5" y="1221.6"/>
<use href="#h" x="2168" y="1221.6"/>
<use href="#h" x="2169.6" y="1221.6"/>
<use href="#h" x="2171.1" y="1221.6"/>
<use href="#h" x="2172.6" y="1221.6"/>
<use href="#h" x="2174.1" y="1221.6"/>
<use href="#h" x="2175.6" y="1221.6"/>
<use href="#h" x="2177" y="1221.6"/>
<use href="#h" x="2178.5" y="1221.6"/>
<use href="#h" x="2179.9" y="1221.6"/>
<use href="#h" x="2181.4" y="1221.6"/>
<use href="#h" x="2182.8" y="1221.6"/>
<use href="#h" x="2184.2" y="1221.6"/>
<use href="#h" x="2185.6" y="1221.6"/>
<use href="#h" x="2187" y="1221.6"/>
<use href="#h" x="2188.3" y="1221.6"/>
<use href="#h" x="2189.7" y="1221.6"/>
<use href="#h" x="2191" y="1221.6"/>
<use href="#h" x="2192.4" y="1221.6"/>
<use href="#h" x="2193.7" y="1221.6"/>
<use href="#h" x="2195" y="1221.6"/>
<use href="#h" x="2196.3" y="1221.6"/>
<use href="#h" x="2197.6" y="1221.6"/>
<use href="#h" x="2198.9" y="1221.6"/>
<use href="#h" x="2200.2" y="1221.6"/>
<use href="#h" x="2201.4" y="1221.6"/>
<use href="#h" x="2202.7" y="1221.6"/>
<use href="#h" x="2203.9" y="1221.6"/>
<use href="#h" x="2205.2" y="1221.6"/>
<use href="#h" x="2206.4" y="1221.6"/>
<use href="#h" x="2207.6" y="1221.6"/>
<use href="#h" x="2208.8" y="1221.6"/>
<use href="#h" x="2210" y="1221.6"/>
<use href="#h" x="2211.6" y="1221.6"/>
<use href="#h" x="2213.2" y="1221.6"/>
<use href="#h" x="2214.7" y="1221.6"/>
<use href="#h" x="2216.3" y="1221.6"/>
<use href="#h" x="2217.8" y="1221.6"/>
<use href="#h" x="2219.3" y="1221.6"/>
<use href="#h" x="2220.8" y="1221.6"/>
<use href="#h" x="2222.3" y="1221.6"/>
<use href="#h" x="2223.8" y="1221.6"/>
<use href="#h" x="2225.2" y="1221.6"/>
<use href="#h" x="2226.7" y="1221.6"/>
<use href="#h" x="2228.1" y="1221.6"/>
<use href="#h" x="2229.5" y="1221.6"/>
<use href="#h" x="2231" y="1221.6"/>
<use href="#h" x="2232.4" y="1221.6"/>
<use href="#h" x="2233.7" y="1221.6"/>
<use href="#h" x="2235.1" y="1221.6"/>
<use href="#h" x="2236.5" y="1221.6"/>
<use href="#h" x="2237.8" y="1221.6"/>
<use href="#h" x="2239.2" y="1221.6"/>
<use href="#h" x="2240.5" y="1221.6"/>
<use href="#h" x="2241.8" y="1221.6"/>
<use href="#h" x="2243.1" y="1221.6"/>
<use href="#h" x="2244.4" y="1221.6"/>
<use href="#h" x="2245.7" y="1221.6"/>
<use href="#h" x="2247" y="1221.6"/>
<use href="#h" x="2248.3" y="1221.6"/>
<use href="#h" x="2249.5" y="1221.6"/>
<use href="#h" x="2250.8" y="1221.6"/>
<use href="#h" x="2252" y="1221.6"/>
<use href="#h" x="2253.3" y="1221.6"/>
<use href="#h" x="2254.5" y="1221.6"/>
<use href="#h" x="2255.7" y="1221.6"/>
<use href="#h" x="2256.9" y="1221.6"/>
<use href="#h" x="2258.4" y="1221.6"/>
<use href="#h" x="2259.9" y="1221.6"/>
<use href="#h" x="2261.3" y="1221.6"/>
<use href="#h" x="2262.8" y="1221.6"/>
<use href="#h" x="2264.2" y="1221.6"/>
<use href="#h" x="2265.7" y="1221.6"/>
<use href="#h" x="2267.1" y="1221.6"/>
<use href="#h" x="2268.5" y="1221.6"/>
<use href="#h" x="2269.9" y="1221.6"/>
<use href="#h" x="2271.2" y="1221.6"/>
<use href="#h" x="2272.6" y="1221.6"/>
<use href="#h" x="2274" y="1221.6"/>
<use href="#h" x="2275.3" y="1221.6"/>
<use href="#h" x="2276.7" y="1221.6"/>
<use href="#h" x="2278" y="1221.6"/>
<use href="#h" x="2279.3" y="1221.6"/>
<use href="#h" x="2280.6" y="1221.6"/>
<use href="#h" x="2281.9" y="1221.6"/>
<use href="#h" x="2283.2" y="1221.6"/>
<use href="#h" x="2284.4" y="1221.6"/>
<use href="#h" x="2285.7" y="1221.6"/>
<use href="#h" x="2287" y="1221.6"/>
<use href="#h" x="2288.2" y="1221.6"/>
<use href="#h" x="2289.4" y="1221.6"/>
<use href="#h" x="2290.7" y="1221.6"/>
<use href="#h" x="2291.9" y="1221.6"/>
<use href="#h" x="2293.1" y="1221.6"/>
<use href="#h" x="2294.5" y="1221.6"/>
<use href="#h" x="2296" y="1221.6"/>
<use href="#h" x="2297.4" y="1221.6"/>
<use href="#h" x="2298.8" y="1221.6"/>
<use href="#h" x="2300.2" y="1221.6"/>
<use href="#h" x="2301.5" y="1221.6"/>
<use href="#h" x="2302.9" y="1221.6"/>
<use href="#h" x="2304.3" y="1221.6"/>
<use href="#h" x="2305.6" y="1221.6"/>
<use href="#h" x="2306.9" y="1221.6"/>
<use href="#h" x="2308.3" y="1221.6"/>
<use href="#h" x="2309.6" y="1221.6"/>
<use href="#h" x="2310.9" y="1221.6"/>
<use href="#h" x="2312.2" y="1221.6"/>
<use href="#h" x="2313.5" y="1221.6"/>
<use href="#h" x="2314.7" y="1221.6"/>
<use href="#h" x="2316" y="1221.6"/>
<use href="#h" x="2317.2" y="1221.6"/>
<use href="#h" x="2318.5" y="1221.6"/>
<use href="#h" x="2319.7" y="1221.6"/>
<use href="#h" x="2320.9" y="1221.6"/>
<use href="#h" x="2322.2" y="1221.6"/>
<use href="#h" x="2323.4" y="1221.6"/>
<use href="#h" x="2324.8" y="1221.6"/>
<use href="#h" x="2326.1" y="1221.6"/>
<use href="#h" x="2327.5" y="1221.6"/>
<use href="#h" x="2328.9" y="1221.6"/>
<use href="#h" x="2330.2" y="1221.6"/>
<use href="#h" x="2331.6" y="1221.6"/>
<use href="#h" x="2332.9" y="1221.6"/>
<use href="#h" x="2334.2" y="1221.6"/>
<use href="#h" x="2335.5" y="1221.6"/>
<use href="#h" x="2336.8" y="1221.6"/>
<use href="#h" x="2338.1" y="1221.6"/>
<use href="#h" x="2339.4" y="1221.6"/>
<use href="#h" x="2340.7" y="1221.6"/>
<use href="#h" x="2341.9" y="1221.6"/>
<use href="#h" x="2343.2" y="1221.6"/>
<use href="#h" x="2344.4" y="1221.6"/>
<use href="#h" x="2345.6" y="1221.6"/>
<use href="#h" x="2346.9" y="1221.6"/>
<use href="#h" x="2348.1" y="1221.6"/>
<use href="#h" x="2349.3" y="1221.6"/>
<use href="#h" x="2350.6" y="1221.6"/>
<use href="#h" x="2352" y="1221.6"/>
<use href="#h" x="2353.3" y="1221.6"/>
<use href="#h" x="2354.7" y="1221.6"/>
<use href="#h" x="2356" y="1221.6"/>
<use href="#h" x="2357.3" y="1221.6"/>
<use href="#h" x="2358.6" y="1221.6"/>
<use href="#h" x="2359.6" y="1221.6"/>
</g>
<polyline points="304.8,884.4 417.4,1526.2 486.4,1561.4 533.6,1526 568.6,1531.4 598.6,1530 626.5,1526" fill="none" stroke="#000" stroke-width="10" stroke-linejoin="miter" />
<polyline points="625,1524.5 660,1526.5 707,1528.6 800,1529 1440,1529 2359.6,1528.6" fill="none" stroke="#000" stroke-width="10" stroke-linejoin="miter" />
<polyline points="304.8,884.4 417.4,1526.2 486.4,1561.4 533.6,1526 568.6,1531.4 598.6,1530 626.5,1526" fill="none" stroke="#edb120" stroke-width="6.3" stroke-linejoin="miter" />
<g fill="none" stroke="#000" stroke-width="5.7" stroke-linejoin="round">
<use href="#k" x="304.8" y="884.4"/>
<use href="#k" x="417.4" y="1524.3"/>
<use href="#k" x="486.3" y="1563.1"/>
<use href="#k" x="534" y="1524"/>
<use href="#k" x="568.6" y="1532.9"/>
<use href="#k" x="598.7" y="1528.6"/>
<use href="#k" x="625" y="1524.3"/>
</g>
<g fill="none" stroke="#00f" stroke-width="5.8" stroke-linejoin="round">
<use href="#h" x="707" y="1528.4"/>
<use href="#h" x="793.6" y="1528.4"/>
<use href="#h" x="850" y="1528.4"/>
<use href="#h" x="893" y="1528.4"/>
<use href="#h" x="927.4" y="1528.4"/>
<use href="#h" x="954" y="1528.4"/>
<use href="#h" x="980" y="1528.4"/>
</g>
<g fill="none" stroke="#f00" stroke-width="5.8" stroke-linejoin="round">
<use href="#h" x="1057.4" y="1528.4"/>
<use href="#h" x="1139.6" y="1528.4"/>
<use href="#h" x="1195.6" y="1528.4"/>
<use href="#h" x="1239" y="1528.4"/>
<use href="#h" x="1269" y="1528.4"/>
<use href="#h" x="1299.4" y="1528.4"/>
<use href="#h" x="1321.4" y="1528.4"/>
</g>
<g fill="none" stroke="#0ff" stroke-width="5.8" stroke-linejoin="round">
<use href="#h" x="1369" y="1528.4"/>
<use href="#h" x="1424.2" y="1528.4"/>
<use href="#h" x="1465.4" y="1528.4"/>
<use href="#h" x="1498.4" y="1528.4"/>
<use href="#h" x="1525.9" y="1528.4"/>
<use href="#h" x="1549.4" y="1528.4"/>
<use href="#h" x="1570" y="1528.4"/>
<use href="#h" x="1588.3" y="1528.4"/>
<use href="#h" x="1604.8" y="1528.4"/>
<use href="#h" x="1619.8" y="1528.4"/>
<use href="#h" x="1633.5" y="1528.4"/>
<use href="#h" x="1646.2" y="1528.4"/>
<use href="#h" x="1658" y="1528.4"/>
<use href="#h" x="1668.9" y="1528.4"/>
<use href="#h" x="1679.2" y="1528.4"/>
<use href="#h" x="1688.9" y="1528.4"/>
<use href="#h" x="1698.1" y="1528.4"/>
<use href="#h" x="1706.7" y="1528.4"/>
<use href="#h" x="1715" y="1528.4"/>
<use href="#h" x="1722.8" y="1528.4"/>
<use href="#h" x="1730.3" y="1528.4"/>
<use href="#h" x="1737.5" y="1528.4"/>
<use href="#h" x="1744.3" y="1528.4"/>
<use href="#h" x="1750.9" y="1528.4"/>
<use href="#h" x="1757.3" y="1528.4"/>
<use href="#h" x="1763.4" y="1528.4"/>
<use href="#h" x="1769.3" y="1528.4"/>
<use href="#h" x="1774.9" y="1528.4"/>
<use href="#h" x="1780.4" y="1528.4"/>
<use href="#h" x="1785.7" y="1528.4"/>
<use href="#h" x="1790.9" y="1528.4"/>
<use href="#h" x="1795.9" y="1528.4"/>
<use href="#h" x="1800.7" y="1528.4"/>
<use href="#h" x="1805.4" y="1528.4"/>
<use href="#h" x="1810" y="1528.4"/>
<use href="#h" x="1814.5" y="1528.4"/>
<use href="#h" x="1818.8" y="1528.4"/>
<use href="#h" x="1823" y="1528.4"/>
<use href="#h" x="1827.2" y="1528.4"/>
<use href="#h" x="1831.2" y="1528.4"/>
<use href="#h" x="1835.1" y="1528.4"/>
<use href="#h" x="1838.9" y="1528.4"/>
<use href="#h" x="1842.7" y="1528.4"/>
<use href="#h" x="1846.3" y="1528.4"/>
<use href="#h" x="1849.9" y="1528.4"/>
<use href="#h" x="1853.4" y="1528.4"/>
<use href="#h" x="1856.9" y="1528.4"/>
<use href="#h" x="1860.2" y="1528.4"/>
<use href="#h" x="1863.5" y="1528.4"/>
<use href="#h" x="1866.7" y="1528.4"/>
<use href="#h" x="1869.9" y="1528.4"/>
<use href="#h" x="1873" y="1528.4"/>
<use href="#h" x="1876.1" y="1528.4"/>
<use href="#h" x="1879.1" y="1528.4"/>
<use href="#h" x="1882" y="1528.4"/>
<use href="#h" x="1884.9" y="1528.4"/>
<use href="#h" x="1887.7" y="1528.4"/>
<use href="#h" x="1890.5" y="1528.4"/>
<use href="#h" x="1893.3" y="1528.4"/>
<use href="#h" x="1896" y="1528.4"/>
<use href="#h" x="1898.6" y="1528.4"/>
<use href="#h" x="1901.3" y="1528.4"/>
<use href="#h" x="1903.8" y="1528.4"/>
<use href="#h" x="1906.4" y="1528.4"/>
<use href="#h" x="1908.9" y="1528.4"/>
<use href="#h" x="1911.3" y="1528.4"/>
<use href="#h" x="1913.7" y="1528.4"/>
<use href="#h" x="1916.1" y="1528.4"/>
<use href="#h" x="1918.5" y="1528.4"/>
<use href="#h" x="1920.8" y="1528.4"/>
<use href="#h" x="1923.1" y="1528.4"/>
<use href="#h" x="1925.4" y="1528.4"/>
<use href="#h" x="1927.6" y="1528.4"/>
<use href="#h" x="1929.8" y="1528.4"/>
<use href="#h" x="1931.9" y="1528.4"/>
<use href="#h" x="1934.1" y="1528.4"/>
<use href="#h" x="1936.2" y="1528.4"/>
<use href="#h" x="1938.3" y="1528.4"/>
<use href="#h" x="1940.3" y="1528.4"/>
<use href="#h" x="1942.4" y="1528.4"/>
<use href="#h" x="1944.4" y="1528.4"/>
<use href="#h" x="1946.4" y="1528.4"/>
<use href="#h" x="1948.3" y="1528.4"/>
<use href="#h" x="1950.3" y="1528.4"/>
<use href="#h" x="1952.2" y="1528.4"/>
<use href="#h" x="1954.1" y="1528.4"/>
<use href="#h" x="1956" y="1528.4"/>
<use href="#h" x="1957.8" y="1528.4"/>
<use href="#h" x="1959.6" y="1528.4"/>
<use href="#h" x="1961.5" y="1528.4"/>
<use href="#h" x="1963.2" y="1528.4"/>
<use href="#h" x="1965" y="1528.4"/>
<use href="#h" x="1966.8" y="1528.4"/>
<use href="#h" x="1968.5" y="1528.4"/>
<use href="#h" x="1970.2" y="1528.4"/>
<use href="#h" x="1971.9" y="1528.4"/>
<use href="#h" x="1973.6" y="1528.4"/>
<use href="#h" x="1975.3" y="1528.4"/>
<use href="#h" x="1976.9" y="1528.4"/>
<use href="#h" x="1978.5" y="1528.4"/>
<use href="#h" x="1980.2" y="1528.4"/>
<use href="#h" x="1981.8" y="1528.4"/>
<use href="#h" x="1983.3" y="1528.4"/>
<use href="#h" x="1984.9" y="1528.4"/>
<use href="#h" x="1986.5" y="1528.4"/>
<use href="#h" x="1988" y="1528.4"/>
<use href="#h" x="1989.5" y="1528.4"/>
<use href="#h" x="1991" y="1528.4"/>
<use href="#h" x="1992.5" y="1528.4"/>
<use href="#h" x="1994" y="1528.4"/>
<use href="#h" x="1995.5" y="1528.4"/>
<use href="#h" x="1997" y="1528.4"/>
<use href="#h" x="1998.4" y="1528.4"/>
<use href="#h" x="1999.8" y="1528.4"/>
<use href="#h" x="2001.3" y="1528.4"/>
<use href="#h" x="2002.7" y="1528.4"/>
<use href="#h" x="2004.1" y="1528.4"/>
<use href="#h" x="2005.4" y="1528.4"/>
<use href="#h" x="2006.8" y="1528.4"/>
<use href="#h" x="2008.2" y="1528.4"/>
<use href="#h" x="2009.5" y="1528.4"/>
<use href="#h" x="2010.9" y="1528.4"/>
<use href="#h" x="2012.2" y="1528.4"/>
<use href="#h" x="2013.5" y="1528.4"/>
<use href="#h" x="2014.8" y="1528.4"/>
<use href="#h" x="2016.1" y="1528.4"/>
<use href="#h" x="2017.4" y="1528.4"/>
<use href="#h" x="2018.7" y="1528.4"/>
<use href="#h" x="2020" y="1528.4"/>
<use href="#h" x="2021.2" y="1528.4"/>
<use href="#h" x="2022.5" y="1528.4"/>
<use href="#h" x="2023.7" y="1528.4"/>
<use href="#h" x="2024.9" y="1528.4"/>
<use href="#h" x="2026.2" y="1528.4"/>
<use href="#h" x="2027.4" y="1528.4"/>
<use href="#h" x="2028.6" y="1528.4"/>
<use href="#h" x="2030.9" y="1528.4"/>
<use href="#h" x="2033.3" y="1528.4"/>
<use href="#h" x="2035.6" y="1528.4"/>
<use href="#h" x="2037.9" y="1528.4"/>
<use href="#h" x="2040.1" y="1528.4"/>
<use href="#h" x="2042.4" y="1528.4"/>
<use href="#h" x="2044.5" y="1528.4"/>
<use href="#h" x="2046.7" y="1528.4"/>
<use href="#h" x="2048.8" y="1528.4"/>
<use href="#h" x="2050.9" y="1528.4"/>
<use href="#h" x="2053" y="1528.4"/>
<use href="#h" x="2055.1" y="1528.4"/>
<use href="#h" x="2057.1" y="1528.4"/>
<use href="#h" x="2059.1" y="1528.4"/>
<use href="#h" x="2061.1" y="1528.4"/>
<use href="#h" x="2063.1" y="1528.4"/>
<use href="#h" x="2065" y="1528.4"/>
<use href="#h" x="2066.9" y="1528.4"/>
<use href="#h" x="2068.8" y="1528.4"/>
<use href="#h" x="2070.7" y="1528.4"/>
<use href="#h" x="2072.5" y="1528.4"/>
<use href="#h" x="2074.3" y="1528.4"/>
<use href="#h" x="2076.1" y="1528.4"/>
<use href="#h" x="2077.9" y="1528.4"/>
<use href="#h" x="2079.7" y="1528.4"/>
<use href="#h" x="2081.4" y="1528.4"/>
<use href="#h" x="2083.2" y="1528.4"/>
<use href="#h" x="2084.9" y="1528.4"/>
<use href="#h" x="2086.6" y="1528.4"/>
<use href="#h" x="2088.2" y="1528.4"/>
<use href="#h" x="2089.9" y="1528.4"/>
<use href="#h" x="2091.6" y="1528.4"/>
<use href="#h" x="2093.2" y="1528.4"/>
<use href="#h" x="2094.8" y="1528.4"/>
<use href="#h" x="2096.4" y="1528.4"/>
<use href="#h" x="2098" y="1528.4"/>
<use href="#h" x="2099.5" y="1528.4"/>
<use href="#h" x="2101.1" y="1528.4"/>
<use href="#h" x="2102.6" y="1528.4"/>
<use href="#h" x="2104.1" y="1528.4"/>
<use href="#h" x="2105.7" y="1528.4"/>
<use href="#h" x="2107.1" y="1528.4"/>
<use href="#h" x="2108.6" y="1528.4"/>
<use href="#h" x="2110.1" y="1528.4"/>
<use href="#h" x="2111.6" y="1528.4"/>
<use href="#h" x="2113" y="1528.4"/>
<use href="#h" x="2114.4" y="1528.4"/>
<use href="#h" x="2115.8" y="1528.4"/>
<use href="#h" x="2117.2" y="1528.4"/>
<use href="#h" x="2118.6" y="1528.4"/>
<use href="#h" x="2120" y="1528.4"/>
<use href="#h" x="2121.4" y="1528.4"/>
<use href="#h" x="2122.8" y="1528.4"/>
<use href="#h" x="2124.1" y="1528.4"/>
<use href="#h" x="2125.4" y="1528.4"/>
<use href="#h" x="2126.8" y="1528.4"/>
<use href="#h" x="2128.1" y="1528.4"/>
<use href="#h" x="2129.4" y="1528.4"/>
<use href="#h" x="2130.7" y="1528.4"/>
<use href="#h" x="2132" y="1528.4"/>
<use href="#h" x="2133.2" y="1528.4"/>
<use href="#h" x="2134.5" y="1528.4"/>
<use href="#h" x="2135.8" y="1528.4"/>
<use href="#h" x="2137" y="1528.4"/>
<use href="#h" x="2138.2" y="1528.4"/>
<use href="#h" x="2139.5" y="1528.4"/>
<use href="#h" x="2140.7" y="1528.4"/>
<use href="#h" x="2141.9" y="1528.4"/>
<use href="#h" x="2143.1" y="1528.4"/>
<use href="#h" x="2144.9" y="1528.4"/>
<use href="#h" x="2146.7" y="1528.4"/>
<use href="#h" x="2148.4" y="1528.4"/>
<use href="#h" x="2150.1" y="1528.4"/>
<use href="#h" x="2151.8" y="1528.4"/>
<use href="#h" x="2153.5" y="1528.4"/>
<use href="#h" x="2155.2" y="1528.4"/>
<use href="#h" x="2156.9" y="1528.4"/>
<use href="#h" x="2158.5" y="1528.4"/>
<use href="#h" x="2160.1" y="1528.4"/>
<use href="#h" x="2161.7" y="1528.4"/>
<use href="#h" x="2163.3" y="1528.4"/>
<use href="#h" x="2164.9" y="1528.4"/>
<use href="#h" x="2166.5" y="1528.4"/>
<use href="#h" x="2168" y="1528.4"/>
<use href="#h" x="2169.6" y="1528.4"/>
<use href="#h" x="2171.1" y="1528.4"/>
<use href="#h" x="2172.6" y="1528.4"/>
<use href="#h" x="2174.1" y="1528.4"/>
<use href="#h" x="2175.6" y="1528.4"/>
<use href="#h" x="2177" y="1528.4"/>
<use href="#h" x="2178.5" y="1528.4"/>
<use href="#h" x="2179.9" y="1528.4"/>
<use href="#h" x="2181.4" y="1528.4"/>
<use href="#h" x="2182.8" y="1528.4"/>
<use href="#h" x="2184.2" y="1528.4"/>
<use href="#h" x="2185.6" y="1528.4"/>
<use href="#h" x="2187" y="1528.4"/>
<use href="#h" x="2188.3" y="1528.4"/>
<use href="#h" x="2189.7" y="1528.4"/>
<use href="#h" x="2191" y="1528.4"/>
<use href="#h" x="2192.4" y="1528.4"/>
<use href="#h" x="2193.7" y="1528.4"/>
<use href="#h" x="2195" y="1528.4"/>
<use href="#h" x="2196.3" y="1528.4"/>
<use href="#h" x="2197.6" y="1528.4"/>
<use href="#h" x="2198.9" y="1528.4"/>
<use href="#h" x="2200.2" y="1528.4"/>
<use href="#h" x="2201.4" y="1528.4"/>
<use href="#h" x="2202.7" y="1528.4"/>
<use href="#h" x="2203.9" y="1528.4"/>
<use href="#h" x="2205.2" y="1528.4"/>
<use href="#h" x="2206.4" y="1528.4"/>
<use href="#h" x="2207.6" y="1528.4"/>
<use href="#h" x="2208.8" y="1528.4"/>
<use href="#h" x="2210" y="1528.4"/>
<use href="#h" x="2211.6" y="1528.4"/>
<use href="#h" x="2213.2" y="1528.4"/>
<use href="#h" x="2214.7" y="1528.4"/>
<use href="#h" x="2216.3" y="1528.4"/>
<use href="#h" x="2217.8" y="1528.4"/>
<use href="#h" x="2219.3" y="1528.4"/>
<use href="#h" x="2220.8" y="1528.4"/>
<use href="#h" x="2222.3" y="1528.4"/>
<use href="#h" x="2223.8" y="1528.4"/>
<use href="#h" x="2225.2" y="1528.4"/>
<use href="#h" x="2226.7" y="1528.4"/>
<use href="#h" x="2228.1" y="1528.4"/>
<use href="#h" x="2229.5" y="1528.4"/>
<use href="#h" x="2231" y="1528.4"/>
<use href="#h" x="2232.4" y="1528.4"/>
<use href="#h" x="2233.7" y="1528.4"/>
<use href="#h" x="2235.1" y="1528.4"/>
<use href="#h" x="2236.5" y="1528.4"/>
<use href="#h" x="2237.8" y="1528.4"/>
<use href="#h" x="2239.2" y="1528.4"/>
<use href="#h" x="2240.5" y="1528.4"/>
<use href="#h" x="2241.8" y="1528.4"/>
<use href="#h" x="2243.1" y="1528.4"/>
<use href="#h" x="2244.4" y="1528.4"/>
<use href="#h" x="2245.7" y="1528.4"/>
<use href="#h" x="2247" y="1528.4"/>
<use href="#h" x="2248.3" y="1528.4"/>
<use href="#h" x="2249.5" y="1528.4"/>
<use href="#h" x="2250.8" y="1528.4"/>
<use href="#h" x="2252" y="1528.4"/>
<use href="#h" x="2253.3" y="1528.4"/>
<use href="#h" x="2254.5" y="1528.4"/>
<use href="#h" x="2255.7" y="1528.4"/>
<use href="#h" x="2256.9" y="1528.4"/>
<use href="#h" x="2258.4" y="1528.4"/>
<use href="#h" x="2259.9" y="1528.4"/>
<use href="#h" x="2261.3" y="1528.4"/>
<use href="#h" x="2262.8" y="1528.4"/>
<use href="#h" x="2264.2" y="1528.4"/>
<use href="#h" x="2265.7" y="1528.4"/>
<use href="#h" x="2267.1" y="1528.4"/>
<use href="#h" x="2268.5" y="1528.4"/>
<use href="#h" x="2269.9" y="1528.4"/>
<use href="#h" x="2271.2" y="1528.4"/>
<use href="#h" x="2272.6" y="1528.4"/>
<use href="#h" x="2274" y="1528.4"/>
<use href="#h" x="2275.3" y="1528.4"/>
<use href="#h" x="2276.7" y="1528.4"/>
<use href="#h" x="2278" y="1528.4"/>
<use href="#h" x="2279.3" y="1528.4"/>
<use href="#h" x="2280.6" y="1528.4"/>
<use href="#h" x="2281.9" y="1528.4"/>
<use href="#h" x="2283.2" y="1528.4"/>
<use href="#h" x="2284.4" y="1528.4"/>
<use href="#h" x="2285.7" y="1528.4"/>
<use href="#h" x="2287" y="1528.4"/>
<use href="#h" x="2288.2" y="1528.4"/>
<use href="#h" x="2289.4" y="1528.4"/>
<use href="#h" x="2290.7" y="1528.4"/>
<use href="#h" x="2291.9" y="1528.4"/>
<use href="#h" x="2293.1" y="1528.4"/>
<use href="#h" x="2294.5" y="1528.4"/>
<use href="#h" x="2296" y="1528.4"/>
<use href="#h" x="2297.4" y="1528.4"/>
<use href="#h" x="2298.8" y="1528.4"/>
<use href="#h" x="2300.2" y="1528.4"/>
<use href="#h" x="2301.5" y="1528.4"/>
<use href="#h" x="2302.9" y="1528.4"/>
<use href="#h" x="2304.3" y="1528.4"/>
<use href="#h" x="2305.6" y="1528.4"/>
<use href="#h" x="2306.9" y="1528.4"/>
<use href="#h" x="2308.3" y="1528.4"/>
<use href="#h" x="2309.6" y="1528.4"/>
<use href="#h" x="2310.9" y="1528.4"/>
<use href="#h" x="2312.2" y="1528.4"/>
<use href="#h" x="2313.5" y="1528.4"/>
<use href="#h" x="2314.7" y="1528.4"/>
<use href="#h" x="2316" y="1528.4"/>
<use href="#h" x="2317.2" y="1528.4"/>
<use href="#h" x="2318.5" y="1528.4"/>
<use href="#h" x="2319.7" y="1528.4"/>
<use href="#h" x="2320.9" y="1528.4"/>
<use href="#h" x="2322.2" y="1528.4"/>
<use href="#h" x="2323.4" y="1528.4"/>
<use href="#h" x="2324.8" y="1528.4"/>
<use href="#h" x="2326.1" y="1528.4"/>
<use href="#h" x="2327.5" y="1528.4"/>
<use href="#h" x="2328.9" y="1528.4"/>
<use href="#h" x="2330.2" y="1528.4"/>
<use href="#h" x="2331.6" y="1528.4"/>
<use href="#h" x="2332.9" y="1528.4"/>
<use href="#h" x="2334.2" y="1528.4"/>
<use href="#h" x="2335.5" y="1528.4"/>
<use href="#h" x="2336.8" y="1528.4"/>
<use href="#h" x="2338.1" y="1528.4"/>
<use href="#h" x="2339.4" y="1528.4"/>
<use href="#h" x="2340.7" y="1528.4"/>
<use href="#h" x="2341.9" y="1528.4"/>
<use href="#h" x="2343.2" y="1528.4"/>
<use href="#h" x="2344.4" y="1528.4"/>
<use href="#h" x="2345.6" y="1528.4"/>
<use href="#h" x="2346.9" y="1528.4"/>
<use href="#h" x="2348.1" y="1528.4"/>
<use href="#h" x="2349.3" y="1528.4"/>
<use href="#h" x="2350.6" y="1528.4"/>
<use href="#h" x="2352" y="1528.4"/>
<use href="#h" x="2353.3" y="1528.4"/>
<use href="#h" x="2354.7" y="1528.4"/>
<use href="#h" x="2356" y="1528.4"/>
<use href="#h" x="2357.3" y="1528.4"/>
<use href="#h" x="2358.6" y="1528.4"/>
<use href="#h" x="2359.6" y="1528.4"/>
</g>
</g>
<g class="g" fill="#000">
<rect x="289" y="1653" width="10" height="151"/>
<rect x="898" y="1653" width="10" height="151"/>
<rect x="1525" y="108" width="10" height="150"/>
</g>
<text transform="translate(254.4 128.4) scale(1 1.035)" class="tk" text-anchor="end">0</text>
<text transform="translate(254.4 409.38) scale(1 1.035)" class="tk" text-anchor="end">-1</text>
<text transform="translate(254.4 690.36) scale(1 1.035)" class="tk" text-anchor="end">-2</text>
<text transform="translate(254.4 971.34) scale(1 1.035)" class="tk" text-anchor="end">-3</text>
<text transform="translate(254.4 1252.32) scale(1 1.035)" class="tk" text-anchor="end">-4</text>
<text transform="translate(254.4 1533.3) scale(1 1.035)" class="tk" text-anchor="end">-5</text>
<text transform="translate(254.4 1814.28) scale(1 1.035)" class="tk" text-anchor="end">-6</text>
<text transform="translate(600.9 1889.8) scale(1 1.035)" class="tk">10</text>
<text transform="translate(669.8 1858.9) scale(1 1.035)" class="tk" style="font-size:48.5px">-4</text>
<text transform="translate(980.9 1889.8) scale(1 1.035)" class="tk">10</text>
<text transform="translate(1050.8 1858.9) scale(1 1.035)" class="tk" style="font-size:48.5px">-3</text>
<text transform="translate(1357.1 1889.8) scale(1 1.035)" class="tk">10</text>
<text transform="translate(1426.8 1858.9) scale(1 1.035)" class="tk" style="font-size:48.5px">-2</text>
<text transform="translate(1737.8 1889.8) scale(1 1.035)" class="tk">10</text>
<text transform="translate(1807.9 1858.9) scale(1 1.035)" class="tk" style="font-size:48.5px">-1</text>
<text transform="translate(2123 1889.8) scale(1 1.035)" class="tk">10</text>
<text transform="translate(2191.6 1858.9) scale(1 1.035)" class="tk" style="font-size:48.5px">0</text>
<text transform="translate(276.589 97.362) scale(1.013 1.009)" class="x tk" style="font-size:56px">×</text>
<text transform="translate(324.3 95) scale(1 1.035)" class="tk">10</text>
<text transform="translate(393.6 65) scale(1 1.035)" class="tk" style="font-size:48.5px">-4</text>
<text transform="translate(1113.842 1958.3) scale(1 1.035)" class="tk">frequency [cps]</text>
<text transform="translate(344.108 521) scale(1 1.035)">Internal</text>
<text transform="translate(345.248 676) scale(1 1.035)">Swash</text>
<text transform="translate(771.539 787.7) scale(1 1.035)" class="o">Turbulent Production</text>
<text transform="translate(1642.908 1069) scale(1 1.035)">Inertial Subrange</text>
<text transform="translate(1548.225 255.1) scale(1 1.035)">U/H</text>
<text transform="translate(1655.84 287) scale(1 1.035)" style="font-size:48.5px">ab</text>
<text transform="translate(911.929 1665.3) scale(1 1.035)" class="o">N</text>
<text transform="translate(959.94 1695.6) scale(1 1.035)" class="o" style="font-size:48.5px">ext</text>
<text transform="translate(299.964 1672.7) scale(1 1.035)" class="sb">f</text>
<text transform="translate(784.597 299.233) scale(1.148 0.746)" class="m o" style="font-size:70px">−</text>
<rect x="843" y="243.7" width="120" height="6.3" fill="#fff"/>
<rect x="844" y="244.7" width="118" height="4.3" fill="#000"/>
<text transform="translate(846.99 296.982) scale(1.066 0.939)" class="b o" style="font-size:62.6px">u</text>
<text transform="translate(880.623 328.62) scale(0.804 1.385)" class="cal o" style="font-size:70px">′</text>
<text transform="translate(898.915 297.1) scale(1.11 1.003)" class="b o" style="font-size:62.6px">T</text>
<text transform="translate(943.556 328.62) scale(0.796 1.385)" class="cal o" style="font-size:70px">′</text>
<text transform="translate(770.415 1168.1) scale(1.054 0.973)" class="b o" style="font-size:62.6px">1</text>
<text transform="translate(805.231 1168.102) scale(1.119 0.978)" class="b o" style="font-size:62.6px">0</text>
<text transform="translate(853.82 1170.131) scale(1.009 0.999)" class="x o" style="font-size:56px">×</text>
<rect x="913" y="1115.7" width="132" height="5.6" fill="#fff"/>
<rect x="914" y="1116.7" width="130" height="3.6" fill="#000"/>
<text transform="translate(915.808 1168.117) scale(1.049 0.954)" class="b o" style="font-size:62.6px">w</text>
<text transform="translate(962.421 1198.543) scale(0.781 1.366)" class="cal o" style="font-size:70px">′</text>
<text transform="translate(980.612 1168.1) scale(1.112 0.993)" class="b o" style="font-size:62.6px">T</text>
<text transform="translate(1026.421 1198.543) scale(0.781 1.366)" class="cal o" style="font-size:70px">′</text>
<rect x="769" y="1424.5" width="119.1" height="5.5" fill="#fff"/>
<rect x="770" y="1425.5" width="117.1" height="3.5" fill="#000"/>
<text transform="translate(771.9 1476.731) scale(1.089 0.93)" class="b o" style="font-size:62.6px">v</text>
<text transform="translate(805.19 1507.318) scale(0.812 1.36)" class="cal o" style="font-size:70px">′</text>
<text transform="translate(823.919 1476.7) scale(1.105 0.993)" class="b o" style="font-size:62.6px">T</text>
<text transform="translate(868.257 1507.318) scale(0.82 1.36)" class="cal o" style="font-size:70px">′</text>
<g transform="translate(132.5 1400) rotate(-90)">
<g transform="skewX(-14)">
<text transform="translate(13.656 17.9) scale(0.394 0.999)" class="cal tk" style="font-size:122px">∫</text>
</g>
<text transform="translate(35.095 54.08) scale(1.163 0.999)" class="m tk" style="font-size:43px">0</text>
<text transform="translate(61.634 -66.051) scale(1.066 0.837)" class="mi tk" style="font-size:43px">σ</text>
<text transform="translate(95.752 1.112) scale(1.218 0.906)" class="cal tk e2" style="font-size:60px">ℛ</text>
<text transform="translate(156.667 5.717) scale(0.474 1.005)" class="m tk" style="font-size:72px">[</text>
<text transform="translate(170.172 0.067) scale(1.127 0.631)" class="m tk" style="font-size:70px">−</text>
<rect x="216.4" y="-51.6" width="116.9" height="2.9" fill="#262626"/>
<text transform="translate(218.014 -0.107) scale(1.041 0.926)" class="b tk" style="font-size:62.6px">u</text>
<text transform="translate(253.12 30.82) scale(0.757 1.385)" class="cal tk" style="font-size:70px">′</text>
<text transform="translate(271.224 0) scale(1.1 0.998)" class="b tk" style="font-size:62.6px">T</text>
<text transform="translate(315.721 30.82) scale(0.781 1.385)" class="cal tk" style="font-size:70px">′</text>
<rect x="366.3" y="-51.6" width="116" height="2.9" fill="#262626"/>
<text transform="translate(366.8 0.031) scale(1.115 0.93)" class="b tk" style="font-size:62.6px">v</text>
<text transform="translate(402.385 30.82) scale(0.742 1.385)" class="cal tk" style="font-size:70px">′</text>
<text transform="translate(420.232 0) scale(1.092 0.998)" class="b tk" style="font-size:62.6px">T</text>
<text transform="translate(464.987 30.82) scale(0.765 1.385)" class="cal tk" style="font-size:70px">′</text>
<text transform="translate(514.845 0) scale(1.028 0.958)" class="b tk" style="font-size:62.6px">1</text>
<text transform="translate(550.394 0.412) scale(1.093 0.961)" class="b tk" style="font-size:62.6px">0</text>
<text transform="translate(597.982 2.642) scale(1.002 1.002)" class="x tk" style="font-size:56px">×</text>
<rect x="659.2" y="-51.6" width="129.7" height="2.9" fill="#262626"/>
<text transform="translate(660.808 0.035) scale(1.045 0.924)" class="b tk" style="font-size:62.6px">w</text>
<text transform="translate(707.92 30.043) scale(0.757 1.366)" class="cal tk" style="font-size:70px">′</text>
<text transform="translate(726.532 0) scale(1.092 0.998)" class="b tk" style="font-size:62.6px">T</text>
<text transform="translate(770.623 30.043) scale(0.804 1.366)" class="cal tk" style="font-size:70px">′</text>
<text transform="translate(788.183 5.533) scale(0.468 1.004)" class="m tk" style="font-size:72px">]</text>
<text transform="translate(821.732 0.002) scale(1.051 0.979)" class="b tk" style="font-size:62.6px">d</text>
<text transform="translate(860.203 0.9) scale(1.118 0.853)" class="mi tk" style="font-size:60px">σ</text>
</g>
</svg>
</body></html>
